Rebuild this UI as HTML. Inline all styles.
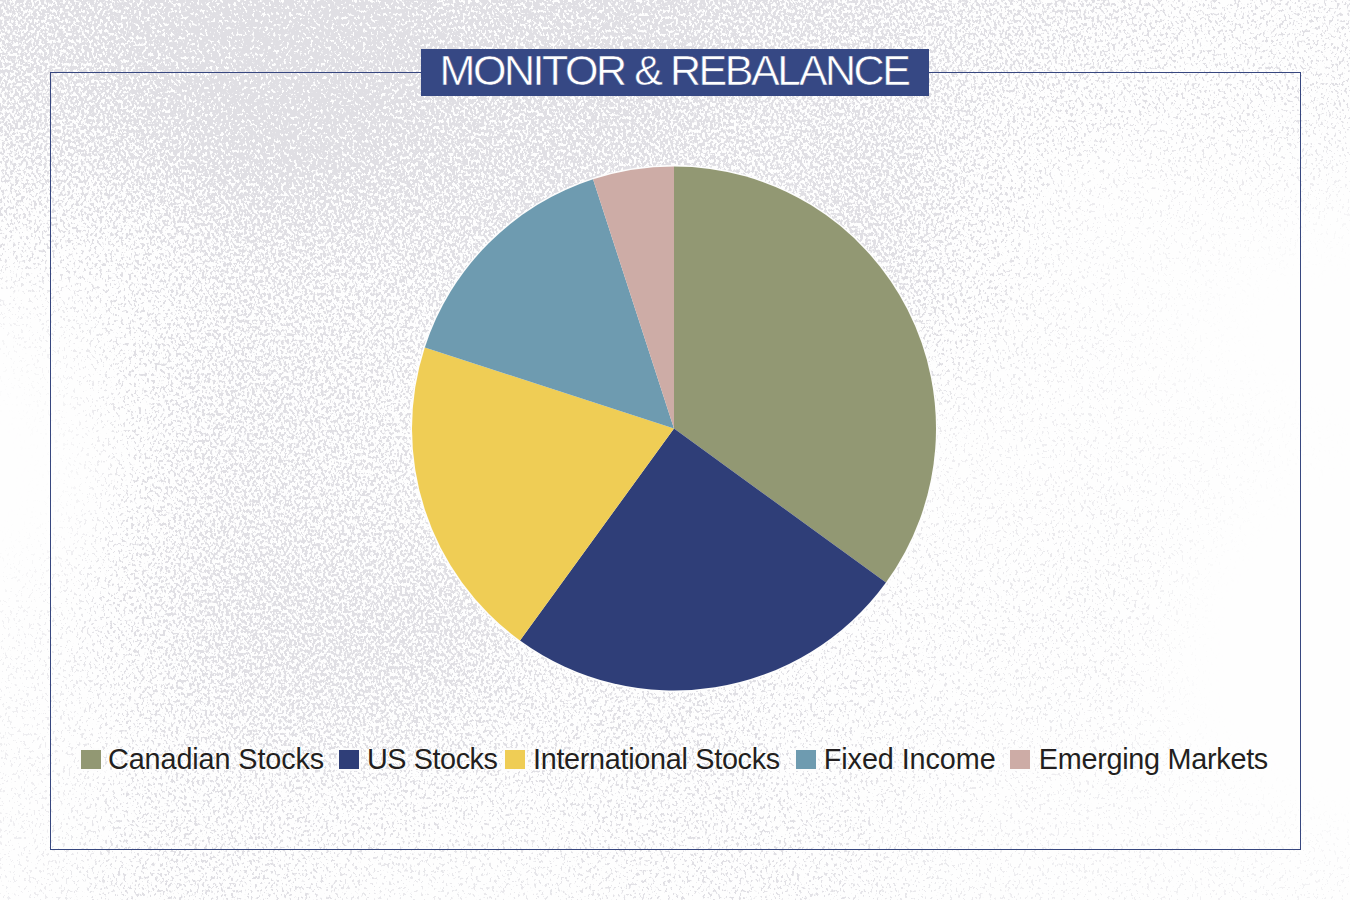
<!DOCTYPE html>
<html><head><meta charset="utf-8">
<style>
html,body{margin:0;padding:0;}
body{width:1350px;height:900px;overflow:hidden;position:relative;background:#f4f4f6;font-family:"Liberation Sans",sans-serif;}
#bg{position:absolute;left:0;top:0;width:1350px;height:900px;}
#frame{position:absolute;left:50px;top:72px;width:1249px;height:776px;border:1px solid #37477f;}
#title{position:absolute;left:421px;top:49px;width:508px;height:47px;background:#364884;}
#title span{position:absolute;left:-1px;top:0;width:508px;text-align:center;color:#fff;font-size:43px;line-height:43px;letter-spacing:-2.45px;-webkit-text-stroke:0.5px #364884;}
#pie{position:absolute;left:0;top:0;}
.lg{position:absolute;top:750px;width:20px;height:19px;box-shadow:0 0 0 2px rgba(253,253,253,0.9);}
.lt{position:absolute;top:743px;font-size:28.8px;line-height:32px;color:#231f20;letter-spacing:-0.3px;white-space:nowrap;text-shadow:0 0 1.5px #fff,0 0 1.5px #fff,0 0 2px #fff;}
</style></head>
<body>
<svg id="bg" width="1350" height="900">
<defs>
<filter id="tex" filterUnits="userSpaceOnUse" x="-60" y="-60" width="1470" height="1020" color-interpolation-filters="sRGB">
<feGaussianBlur in="SourceGraphic" stdDeviation="15" result="dens"/>
<feTurbulence type="fractalNoise" baseFrequency="0.38 0.3" numOctaves="2" seed="7" result="n0"/>
<feColorMatrix in="n0" type="matrix" values="1 0 0 0 0  1 0 0 0 0  1 0 0 0 0  0 0 0 0 1" result="n1"/>
<feComponentTransfer in="n1" result="noise"><feFuncR type="linear" slope="3" intercept="-1"/><feFuncG type="linear" slope="3" intercept="-1"/><feFuncB type="linear" slope="3" intercept="-1"/></feComponentTransfer>
<feComposite in="dens" in2="noise" operator="arithmetic" k1="0" k2="1" k3="1" k4="-1" result="v"/>
<feComponentTransfer in="v" result="m"><feFuncR type="linear" slope="4"/><feFuncG type="linear" slope="4"/><feFuncB type="linear" slope="4"/><feFuncA type="linear" slope="0" intercept="1"/></feComponentTransfer>
<feColorMatrix in="m" type="matrix" values="-0.1176 0 0 0 0.996  -0.1216 0 0 0 0.996  -0.102 0 0 0 0.996  0 0 0 0 1" result="c"/>

</filter>
</defs>
<g filter="url(#tex)">
<rect x="-60" y="-60" width="30" height="30" fill="rgb(182,182,182)"/><rect x="-30" y="-60" width="30" height="30" fill="rgb(182,182,182)"/><rect x="0" y="-60" width="30" height="30" fill="rgb(185,185,185)"/><rect x="30" y="-60" width="30" height="30" fill="rgb(191,191,191)"/><rect x="60" y="-60" width="30" height="30" fill="rgb(200,200,200)"/><rect x="90" y="-60" width="30" height="30" fill="rgb(211,211,211)"/><rect x="120" y="-60" width="30" height="30" fill="rgb(224,224,224)"/><rect x="150" y="-60" width="30" height="30" fill="rgb(238,238,238)"/><rect x="180" y="-60" width="30" height="30" fill="rgb(252,252,252)"/><rect x="210" y="-60" width="30" height="30" fill="rgb(255,255,255)"/><rect x="240" y="-60" width="30" height="30" fill="rgb(255,255,255)"/><rect x="270" y="-60" width="30" height="30" fill="rgb(255,255,255)"/><rect x="300" y="-60" width="30" height="30" fill="rgb(255,255,255)"/><rect x="330" y="-60" width="30" height="30" fill="rgb(255,255,255)"/><rect x="360" y="-60" width="30" height="30" fill="rgb(255,255,255)"/><rect x="390" y="-60" width="30" height="30" fill="rgb(244,244,244)"/><rect x="420" y="-60" width="30" height="30" fill="rgb(232,232,232)"/><rect x="450" y="-60" width="30" height="30" fill="rgb(222,222,222)"/><rect x="480" y="-60" width="30" height="30" fill="rgb(218,218,218)"/><rect x="510" y="-60" width="30" height="30" fill="rgb(218,218,218)"/><rect x="540" y="-60" width="30" height="30" fill="rgb(220,220,220)"/><rect x="570" y="-60" width="30" height="30" fill="rgb(223,223,223)"/><rect x="600" y="-60" width="30" height="30" fill="rgb(225,225,225)"/><rect x="630" y="-60" width="30" height="30" fill="rgb(223,223,223)"/><rect x="660" y="-60" width="30" height="30" fill="rgb(217,217,217)"/><rect x="690" y="-60" width="30" height="30" fill="rgb(207,207,207)"/><rect x="720" y="-60" width="30" height="30" fill="rgb(196,196,196)"/><rect x="750" y="-60" width="30" height="30" fill="rgb(188,188,188)"/><rect x="780" y="-60" width="30" height="30" fill="rgb(182,182,182)"/><rect x="810" y="-60" width="30" height="30" fill="rgb(178,178,178)"/><rect x="840" y="-60" width="30" height="30" fill="rgb(173,173,173)"/><rect x="870" y="-60" width="30" height="30" fill="rgb(165,165,165)"/><rect x="900" y="-60" width="30" height="30" fill="rgb(154,154,154)"/><rect x="930" y="-60" width="30" height="30" fill="rgb(142,142,142)"/><rect x="960" y="-60" width="30" height="30" fill="rgb(134,134,134)"/><rect x="990" y="-60" width="30" height="30" fill="rgb(129,129,129)"/><rect x="1020" y="-60" width="30" height="30" fill="rgb(125,125,125)"/><rect x="1050" y="-60" width="30" height="30" fill="rgb(121,121,121)"/><rect x="1080" y="-60" width="30" height="30" fill="rgb(114,114,114)"/><rect x="1110" y="-60" width="30" height="30" fill="rgb(103,103,103)"/><rect x="1140" y="-60" width="30" height="30" fill="rgb(89,89,89)"/><rect x="1170" y="-60" width="30" height="30" fill="rgb(80,80,80)"/><rect x="1200" y="-60" width="30" height="30" fill="rgb(75,75,75)"/><rect x="1230" y="-60" width="30" height="30" fill="rgb(74,74,74)"/><rect x="1260" y="-60" width="30" height="30" fill="rgb(74,74,74)"/><rect x="1290" y="-60" width="30" height="30" fill="rgb(74,74,74)"/><rect x="1320" y="-60" width="30" height="30" fill="rgb(75,75,75)"/><rect x="1350" y="-60" width="30" height="30" fill="rgb(75,75,75)"/><rect x="1380" y="-60" width="30" height="30" fill="rgb(75,75,75)"/><rect x="-60" y="-30" width="30" height="30" fill="rgb(182,182,182)"/><rect x="-30" y="-30" width="30" height="30" fill="rgb(182,182,182)"/><rect x="0" y="-30" width="30" height="30" fill="rgb(185,185,185)"/><rect x="30" y="-30" width="30" height="30" fill="rgb(191,191,191)"/><rect x="60" y="-30" width="30" height="30" fill="rgb(200,200,200)"/><rect x="90" y="-30" width="30" height="30" fill="rgb(211,211,211)"/><rect x="120" y="-30" width="30" height="30" fill="rgb(224,224,224)"/><rect x="150" y="-30" width="30" height="30" fill="rgb(238,238,238)"/><rect x="180" y="-30" width="30" height="30" fill="rgb(252,252,252)"/><rect x="210" y="-30" width="30" height="30" fill="rgb(255,255,255)"/><rect x="240" y="-30" width="30" height="30" fill="rgb(255,255,255)"/><rect x="270" y="-30" width="30" height="30" fill="rgb(255,255,255)"/><rect x="300" y="-30" width="30" height="30" fill="rgb(255,255,255)"/><rect x="330" y="-30" width="30" height="30" fill="rgb(255,255,255)"/><rect x="360" y="-30" width="30" height="30" fill="rgb(255,255,255)"/><rect x="390" y="-30" width="30" height="30" fill="rgb(244,244,244)"/><rect x="420" y="-30" width="30" height="30" fill="rgb(232,232,232)"/><rect x="450" y="-30" width="30" height="30" fill="rgb(222,222,222)"/><rect x="480" y="-30" width="30" height="30" fill="rgb(218,218,218)"/><rect x="510" y="-30" width="30" height="30" fill="rgb(218,218,218)"/><rect x="540" y="-30" width="30" height="30" fill="rgb(220,220,220)"/><rect x="570" y="-30" width="30" height="30" fill="rgb(223,223,223)"/><rect x="600" y="-30" width="30" height="30" fill="rgb(225,225,225)"/><rect x="630" y="-30" width="30" height="30" fill="rgb(223,223,223)"/><rect x="660" y="-30" width="30" height="30" fill="rgb(217,217,217)"/><rect x="690" y="-30" width="30" height="30" fill="rgb(207,207,207)"/><rect x="720" y="-30" width="30" height="30" fill="rgb(196,196,196)"/><rect x="750" y="-30" width="30" height="30" fill="rgb(188,188,188)"/><rect x="780" y="-30" width="30" height="30" fill="rgb(182,182,182)"/><rect x="810" y="-30" width="30" height="30" fill="rgb(178,178,178)"/><rect x="840" y="-30" width="30" height="30" fill="rgb(173,173,173)"/><rect x="870" y="-30" width="30" height="30" fill="rgb(165,165,165)"/><rect x="900" y="-30" width="30" height="30" fill="rgb(154,154,154)"/><rect x="930" y="-30" width="30" height="30" fill="rgb(142,142,142)"/><rect x="960" y="-30" width="30" height="30" fill="rgb(134,134,134)"/><rect x="990" y="-30" width="30" height="30" fill="rgb(129,129,129)"/><rect x="1020" y="-30" width="30" height="30" fill="rgb(125,125,125)"/><rect x="1050" y="-30" width="30" height="30" fill="rgb(121,121,121)"/><rect x="1080" y="-30" width="30" height="30" fill="rgb(114,114,114)"/><rect x="1110" y="-30" width="30" height="30" fill="rgb(103,103,103)"/><rect x="1140" y="-30" width="30" height="30" fill="rgb(89,89,89)"/><rect x="1170" y="-30" width="30" height="30" fill="rgb(80,80,80)"/><rect x="1200" y="-30" width="30" height="30" fill="rgb(75,75,75)"/><rect x="1230" y="-30" width="30" height="30" fill="rgb(74,74,74)"/><rect x="1260" y="-30" width="30" height="30" fill="rgb(74,74,74)"/><rect x="1290" y="-30" width="30" height="30" fill="rgb(74,74,74)"/><rect x="1320" y="-30" width="30" height="30" fill="rgb(75,75,75)"/><rect x="1350" y="-30" width="30" height="30" fill="rgb(75,75,75)"/><rect x="1380" y="-30" width="30" height="30" fill="rgb(75,75,75)"/><rect x="-60" y="0" width="30" height="30" fill="rgb(181,181,181)"/><rect x="-30" y="0" width="30" height="30" fill="rgb(181,181,181)"/><rect x="0" y="0" width="30" height="30" fill="rgb(183,183,183)"/><rect x="30" y="0" width="30" height="30" fill="rgb(190,190,190)"/><rect x="60" y="0" width="30" height="30" fill="rgb(199,199,199)"/><rect x="90" y="0" width="30" height="30" fill="rgb(210,210,210)"/><rect x="120" y="0" width="30" height="30" fill="rgb(222,222,222)"/><rect x="150" y="0" width="30" height="30" fill="rgb(237,237,237)"/><rect x="180" y="0" width="30" height="30" fill="rgb(251,251,251)"/><rect x="210" y="0" width="30" height="30" fill="rgb(255,255,255)"/><rect x="240" y="0" width="30" height="30" fill="rgb(255,255,255)"/><rect x="270" y="0" width="30" height="30" fill="rgb(255,255,255)"/><rect x="300" y="0" width="30" height="30" fill="rgb(255,255,255)"/><rect x="330" y="0" width="30" height="30" fill="rgb(255,255,255)"/><rect x="360" y="0" width="30" height="30" fill="rgb(255,255,255)"/><rect x="390" y="0" width="30" height="30" fill="rgb(244,244,244)"/><rect x="420" y="0" width="30" height="30" fill="rgb(231,231,231)"/><rect x="450" y="0" width="30" height="30" fill="rgb(221,221,221)"/><rect x="480" y="0" width="30" height="30" fill="rgb(216,216,216)"/><rect x="510" y="0" width="30" height="30" fill="rgb(216,216,216)"/><rect x="540" y="0" width="30" height="30" fill="rgb(218,218,218)"/><rect x="570" y="0" width="30" height="30" fill="rgb(221,221,221)"/><rect x="600" y="0" width="30" height="30" fill="rgb(222,222,222)"/><rect x="630" y="0" width="30" height="30" fill="rgb(220,220,220)"/><rect x="660" y="0" width="30" height="30" fill="rgb(214,214,214)"/><rect x="690" y="0" width="30" height="30" fill="rgb(204,204,204)"/><rect x="720" y="0" width="30" height="30" fill="rgb(193,193,193)"/><rect x="750" y="0" width="30" height="30" fill="rgb(185,185,185)"/><rect x="780" y="0" width="30" height="30" fill="rgb(180,180,180)"/><rect x="810" y="0" width="30" height="30" fill="rgb(176,176,176)"/><rect x="840" y="0" width="30" height="30" fill="rgb(171,171,171)"/><rect x="870" y="0" width="30" height="30" fill="rgb(164,164,164)"/><rect x="900" y="0" width="30" height="30" fill="rgb(152,152,152)"/><rect x="930" y="0" width="30" height="30" fill="rgb(141,141,141)"/><rect x="960" y="0" width="30" height="30" fill="rgb(132,132,132)"/><rect x="990" y="0" width="30" height="30" fill="rgb(126,126,126)"/><rect x="1020" y="0" width="30" height="30" fill="rgb(122,122,122)"/><rect x="1050" y="0" width="30" height="30" fill="rgb(118,118,118)"/><rect x="1080" y="0" width="30" height="30" fill="rgb(111,111,111)"/><rect x="1110" y="0" width="30" height="30" fill="rgb(100,100,100)"/><rect x="1140" y="0" width="30" height="30" fill="rgb(87,87,87)"/><rect x="1170" y="0" width="30" height="30" fill="rgb(78,78,78)"/><rect x="1200" y="0" width="30" height="30" fill="rgb(74,74,74)"/><rect x="1230" y="0" width="30" height="30" fill="rgb(73,73,73)"/><rect x="1260" y="0" width="30" height="30" fill="rgb(73,73,73)"/><rect x="1290" y="0" width="30" height="30" fill="rgb(73,73,73)"/><rect x="1320" y="0" width="30" height="30" fill="rgb(74,74,74)"/><rect x="1350" y="0" width="30" height="30" fill="rgb(74,74,74)"/><rect x="1380" y="0" width="30" height="30" fill="rgb(74,74,74)"/><rect x="-60" y="30" width="30" height="30" fill="rgb(177,177,177)"/><rect x="-30" y="30" width="30" height="30" fill="rgb(177,177,177)"/><rect x="0" y="30" width="30" height="30" fill="rgb(180,180,180)"/><rect x="30" y="30" width="30" height="30" fill="rgb(186,186,186)"/><rect x="60" y="30" width="30" height="30" fill="rgb(194,194,194)"/><rect x="90" y="30" width="30" height="30" fill="rgb(205,205,205)"/><rect x="120" y="30" width="30" height="30" fill="rgb(217,217,217)"/><rect x="150" y="30" width="30" height="30" fill="rgb(232,232,232)"/><rect x="180" y="30" width="30" height="30" fill="rgb(247,247,247)"/><rect x="210" y="30" width="30" height="30" fill="rgb(255,255,255)"/><rect x="240" y="30" width="30" height="30" fill="rgb(255,255,255)"/><rect x="270" y="30" width="30" height="30" fill="rgb(255,255,255)"/><rect x="300" y="30" width="30" height="30" fill="rgb(255,255,255)"/><rect x="330" y="30" width="30" height="30" fill="rgb(255,255,255)"/><rect x="360" y="30" width="30" height="30" fill="rgb(255,255,255)"/><rect x="390" y="30" width="30" height="30" fill="rgb(243,243,243)"/><rect x="420" y="30" width="30" height="30" fill="rgb(229,229,229)"/><rect x="450" y="30" width="30" height="30" fill="rgb(218,218,218)"/><rect x="480" y="30" width="30" height="30" fill="rgb(213,213,213)"/><rect x="510" y="30" width="30" height="30" fill="rgb(212,212,212)"/><rect x="540" y="30" width="30" height="30" fill="rgb(213,213,213)"/><rect x="570" y="30" width="30" height="30" fill="rgb(216,216,216)"/><rect x="600" y="30" width="30" height="30" fill="rgb(217,217,217)"/><rect x="630" y="30" width="30" height="30" fill="rgb(215,215,215)"/><rect x="660" y="30" width="30" height="30" fill="rgb(207,207,207)"/><rect x="690" y="30" width="30" height="30" fill="rgb(197,197,197)"/><rect x="720" y="30" width="30" height="30" fill="rgb(186,186,186)"/><rect x="750" y="30" width="30" height="30" fill="rgb(178,178,178)"/><rect x="780" y="30" width="30" height="30" fill="rgb(173,173,173)"/><rect x="810" y="30" width="30" height="30" fill="rgb(171,171,171)"/><rect x="840" y="30" width="30" height="30" fill="rgb(167,167,167)"/><rect x="870" y="30" width="30" height="30" fill="rgb(161,161,161)"/><rect x="900" y="30" width="30" height="30" fill="rgb(150,150,150)"/><rect x="930" y="30" width="30" height="30" fill="rgb(138,138,138)"/><rect x="960" y="30" width="30" height="30" fill="rgb(127,127,127)"/><rect x="990" y="30" width="30" height="30" fill="rgb(120,120,120)"/><rect x="1020" y="30" width="30" height="30" fill="rgb(115,115,115)"/><rect x="1050" y="30" width="30" height="30" fill="rgb(110,110,110)"/><rect x="1080" y="30" width="30" height="30" fill="rgb(102,102,102)"/><rect x="1110" y="30" width="30" height="30" fill="rgb(92,92,92)"/><rect x="1140" y="30" width="30" height="30" fill="rgb(80,80,80)"/><rect x="1170" y="30" width="30" height="30" fill="rgb(73,73,73)"/><rect x="1200" y="30" width="30" height="30" fill="rgb(70,70,70)"/><rect x="1230" y="30" width="30" height="30" fill="rgb(70,70,70)"/><rect x="1260" y="30" width="30" height="30" fill="rgb(70,70,70)"/><rect x="1290" y="30" width="30" height="30" fill="rgb(71,71,71)"/><rect x="1320" y="30" width="30" height="30" fill="rgb(71,71,71)"/><rect x="1350" y="30" width="30" height="30" fill="rgb(71,71,71)"/><rect x="1380" y="30" width="30" height="30" fill="rgb(71,71,71)"/><rect x="-60" y="60" width="30" height="30" fill="rgb(172,172,172)"/><rect x="-30" y="60" width="30" height="30" fill="rgb(172,172,172)"/><rect x="0" y="60" width="30" height="30" fill="rgb(174,174,174)"/><rect x="30" y="60" width="30" height="30" fill="rgb(180,180,180)"/><rect x="60" y="60" width="30" height="30" fill="rgb(187,187,187)"/><rect x="90" y="60" width="30" height="30" fill="rgb(197,197,197)"/><rect x="120" y="60" width="30" height="30" fill="rgb(210,210,210)"/><rect x="150" y="60" width="30" height="30" fill="rgb(225,225,225)"/><rect x="180" y="60" width="30" height="30" fill="rgb(242,242,242)"/><rect x="210" y="60" width="30" height="30" fill="rgb(255,255,255)"/><rect x="240" y="60" width="30" height="30" fill="rgb(255,255,255)"/><rect x="270" y="60" width="30" height="30" fill="rgb(255,255,255)"/><rect x="300" y="60" width="30" height="30" fill="rgb(255,255,255)"/><rect x="330" y="60" width="30" height="30" fill="rgb(255,255,255)"/><rect x="360" y="60" width="30" height="30" fill="rgb(251,251,251)"/><rect x="390" y="60" width="30" height="30" fill="rgb(238,238,238)"/><rect x="420" y="60" width="30" height="30" fill="rgb(224,224,224)"/><rect x="450" y="60" width="30" height="30" fill="rgb(213,213,213)"/><rect x="480" y="60" width="30" height="30" fill="rgb(208,208,208)"/><rect x="510" y="60" width="30" height="30" fill="rgb(206,206,206)"/><rect x="540" y="60" width="30" height="30" fill="rgb(208,208,208)"/><rect x="570" y="60" width="30" height="30" fill="rgb(210,210,210)"/><rect x="600" y="60" width="30" height="30" fill="rgb(210,210,210)"/><rect x="630" y="60" width="30" height="30" fill="rgb(207,207,207)"/><rect x="660" y="60" width="30" height="30" fill="rgb(199,199,199)"/><rect x="690" y="60" width="30" height="30" fill="rgb(188,188,188)"/><rect x="720" y="60" width="30" height="30" fill="rgb(177,177,177)"/><rect x="750" y="60" width="30" height="30" fill="rgb(170,170,170)"/><rect x="780" y="60" width="30" height="30" fill="rgb(167,167,167)"/><rect x="810" y="60" width="30" height="30" fill="rgb(166,166,166)"/><rect x="840" y="60" width="30" height="30" fill="rgb(164,164,164)"/><rect x="870" y="60" width="30" height="30" fill="rgb(159,159,159)"/><rect x="900" y="60" width="30" height="30" fill="rgb(148,148,148)"/><rect x="930" y="60" width="30" height="30" fill="rgb(134,134,134)"/><rect x="960" y="60" width="30" height="30" fill="rgb(121,121,121)"/><rect x="990" y="60" width="30" height="30" fill="rgb(111,111,111)"/><rect x="1020" y="60" width="30" height="30" fill="rgb(104,104,104)"/><rect x="1050" y="60" width="30" height="30" fill="rgb(97,97,97)"/><rect x="1080" y="60" width="30" height="30" fill="rgb(90,90,90)"/><rect x="1110" y="60" width="30" height="30" fill="rgb(81,81,81)"/><rect x="1140" y="60" width="30" height="30" fill="rgb(72,72,72)"/><rect x="1170" y="60" width="30" height="30" fill="rgb(67,67,67)"/><rect x="1200" y="60" width="30" height="30" fill="rgb(65,65,65)"/><rect x="1230" y="60" width="30" height="30" fill="rgb(65,65,65)"/><rect x="1260" y="60" width="30" height="30" fill="rgb(66,66,66)"/><rect x="1290" y="60" width="30" height="30" fill="rgb(66,66,66)"/><rect x="1320" y="60" width="30" height="30" fill="rgb(67,67,67)"/><rect x="1350" y="60" width="30" height="30" fill="rgb(67,67,67)"/><rect x="1380" y="60" width="30" height="30" fill="rgb(67,67,67)"/><rect x="-60" y="90" width="30" height="30" fill="rgb(164,164,164)"/><rect x="-30" y="90" width="30" height="30" fill="rgb(164,164,164)"/><rect x="0" y="90" width="30" height="30" fill="rgb(165,165,165)"/><rect x="30" y="90" width="30" height="30" fill="rgb(170,170,170)"/><rect x="60" y="90" width="30" height="30" fill="rgb(177,177,177)"/><rect x="90" y="90" width="30" height="30" fill="rgb(187,187,187)"/><rect x="120" y="90" width="30" height="30" fill="rgb(199,199,199)"/><rect x="150" y="90" width="30" height="30" fill="rgb(215,215,215)"/><rect x="180" y="90" width="30" height="30" fill="rgb(232,232,232)"/><rect x="210" y="90" width="30" height="30" fill="rgb(249,249,249)"/><rect x="240" y="90" width="30" height="30" fill="rgb(255,255,255)"/><rect x="270" y="90" width="30" height="30" fill="rgb(255,255,255)"/><rect x="300" y="90" width="30" height="30" fill="rgb(255,255,255)"/><rect x="330" y="90" width="30" height="30" fill="rgb(253,253,253)"/><rect x="360" y="90" width="30" height="30" fill="rgb(242,242,242)"/><rect x="390" y="90" width="30" height="30" fill="rgb(229,229,229)"/><rect x="420" y="90" width="30" height="30" fill="rgb(216,216,216)"/><rect x="450" y="90" width="30" height="30" fill="rgb(206,206,206)"/><rect x="480" y="90" width="30" height="30" fill="rgb(201,201,201)"/><rect x="510" y="90" width="30" height="30" fill="rgb(200,200,200)"/><rect x="540" y="90" width="30" height="30" fill="rgb(201,201,201)"/><rect x="570" y="90" width="30" height="30" fill="rgb(203,203,203)"/><rect x="600" y="90" width="30" height="30" fill="rgb(202,202,202)"/><rect x="630" y="90" width="30" height="30" fill="rgb(199,199,199)"/><rect x="660" y="90" width="30" height="30" fill="rgb(190,190,190)"/><rect x="690" y="90" width="30" height="30" fill="rgb(178,178,178)"/><rect x="720" y="90" width="30" height="30" fill="rgb(167,167,167)"/><rect x="750" y="90" width="30" height="30" fill="rgb(162,162,162)"/><rect x="780" y="90" width="30" height="30" fill="rgb(161,161,161)"/><rect x="810" y="90" width="30" height="30" fill="rgb(162,162,162)"/><rect x="840" y="90" width="30" height="30" fill="rgb(163,163,163)"/><rect x="870" y="90" width="30" height="30" fill="rgb(158,158,158)"/><rect x="900" y="90" width="30" height="30" fill="rgb(146,146,146)"/><rect x="930" y="90" width="30" height="30" fill="rgb(130,130,130)"/><rect x="960" y="90" width="30" height="30" fill="rgb(114,114,114)"/><rect x="990" y="90" width="30" height="30" fill="rgb(101,101,101)"/><rect x="1020" y="90" width="30" height="30" fill="rgb(90,90,90)"/><rect x="1050" y="90" width="30" height="30" fill="rgb(82,82,82)"/><rect x="1080" y="90" width="30" height="30" fill="rgb(75,75,75)"/><rect x="1110" y="90" width="30" height="30" fill="rgb(68,68,68)"/><rect x="1140" y="90" width="30" height="30" fill="rgb(63,63,63)"/><rect x="1170" y="90" width="30" height="30" fill="rgb(60,60,60)"/><rect x="1200" y="90" width="30" height="30" fill="rgb(60,60,60)"/><rect x="1230" y="90" width="30" height="30" fill="rgb(60,60,60)"/><rect x="1260" y="90" width="30" height="30" fill="rgb(60,60,60)"/><rect x="1290" y="90" width="30" height="30" fill="rgb(61,61,61)"/><rect x="1320" y="90" width="30" height="30" fill="rgb(61,61,61)"/><rect x="1350" y="90" width="30" height="30" fill="rgb(61,61,61)"/><rect x="1380" y="90" width="30" height="30" fill="rgb(61,61,61)"/><rect x="-60" y="120" width="30" height="30" fill="rgb(150,150,150)"/><rect x="-30" y="120" width="30" height="30" fill="rgb(150,150,150)"/><rect x="0" y="120" width="30" height="30" fill="rgb(152,152,152)"/><rect x="30" y="120" width="30" height="30" fill="rgb(157,157,157)"/><rect x="60" y="120" width="30" height="30" fill="rgb(163,163,163)"/><rect x="90" y="120" width="30" height="30" fill="rgb(172,172,172)"/><rect x="120" y="120" width="30" height="30" fill="rgb(184,184,184)"/><rect x="150" y="120" width="30" height="30" fill="rgb(200,200,200)"/><rect x="180" y="120" width="30" height="30" fill="rgb(219,219,219)"/><rect x="210" y="120" width="30" height="30" fill="rgb(236,236,236)"/><rect x="240" y="120" width="30" height="30" fill="rgb(247,247,247)"/><rect x="270" y="120" width="30" height="30" fill="rgb(250,250,250)"/><rect x="300" y="120" width="30" height="30" fill="rgb(247,247,247)"/><rect x="330" y="120" width="30" height="30" fill="rgb(239,239,239)"/><rect x="360" y="120" width="30" height="30" fill="rgb(228,228,228)"/><rect x="390" y="120" width="30" height="30" fill="rgb(216,216,216)"/><rect x="420" y="120" width="30" height="30" fill="rgb(205,205,205)"/><rect x="450" y="120" width="30" height="30" fill="rgb(197,197,197)"/><rect x="480" y="120" width="30" height="30" fill="rgb(193,193,193)"/><rect x="510" y="120" width="30" height="30" fill="rgb(192,192,192)"/><rect x="540" y="120" width="30" height="30" fill="rgb(194,194,194)"/><rect x="570" y="120" width="30" height="30" fill="rgb(195,195,195)"/><rect x="600" y="120" width="30" height="30" fill="rgb(195,195,195)"/><rect x="630" y="120" width="30" height="30" fill="rgb(190,190,190)"/><rect x="660" y="120" width="30" height="30" fill="rgb(180,180,180)"/><rect x="690" y="120" width="30" height="30" fill="rgb(168,168,168)"/><rect x="720" y="120" width="30" height="30" fill="rgb(159,159,159)"/><rect x="750" y="120" width="30" height="30" fill="rgb(155,155,155)"/><rect x="780" y="120" width="30" height="30" fill="rgb(157,157,157)"/><rect x="810" y="120" width="30" height="30" fill="rgb(161,161,161)"/><rect x="840" y="120" width="30" height="30" fill="rgb(163,163,163)"/><rect x="870" y="120" width="30" height="30" fill="rgb(158,158,158)"/><rect x="900" y="120" width="30" height="30" fill="rgb(145,145,145)"/><rect x="930" y="120" width="30" height="30" fill="rgb(127,127,127)"/><rect x="960" y="120" width="30" height="30" fill="rgb(107,107,107)"/><rect x="990" y="120" width="30" height="30" fill="rgb(90,90,90)"/><rect x="1020" y="120" width="30" height="30" fill="rgb(77,77,77)"/><rect x="1050" y="120" width="30" height="30" fill="rgb(66,66,66)"/><rect x="1080" y="120" width="30" height="30" fill="rgb(59,59,59)"/><rect x="1110" y="120" width="30" height="30" fill="rgb(55,55,55)"/><rect x="1140" y="120" width="30" height="30" fill="rgb(53,53,53)"/><rect x="1170" y="120" width="30" height="30" fill="rgb(53,53,53)"/><rect x="1200" y="120" width="30" height="30" fill="rgb(53,53,53)"/><rect x="1230" y="120" width="30" height="30" fill="rgb(53,53,53)"/><rect x="1260" y="120" width="30" height="30" fill="rgb(53,53,53)"/><rect x="1290" y="120" width="30" height="30" fill="rgb(53,53,53)"/><rect x="1320" y="120" width="30" height="30" fill="rgb(52,52,52)"/><rect x="1350" y="120" width="30" height="30" fill="rgb(52,52,52)"/><rect x="1380" y="120" width="30" height="30" fill="rgb(52,52,52)"/><rect x="-60" y="150" width="30" height="30" fill="rgb(130,130,130)"/><rect x="-30" y="150" width="30" height="30" fill="rgb(130,130,130)"/><rect x="0" y="150" width="30" height="30" fill="rgb(133,133,133)"/><rect x="30" y="150" width="30" height="30" fill="rgb(138,138,138)"/><rect x="60" y="150" width="30" height="30" fill="rgb(144,144,144)"/><rect x="90" y="150" width="30" height="30" fill="rgb(153,153,153)"/><rect x="120" y="150" width="30" height="30" fill="rgb(165,165,165)"/><rect x="150" y="150" width="30" height="30" fill="rgb(181,181,181)"/><rect x="180" y="150" width="30" height="30" fill="rgb(199,199,199)"/><rect x="210" y="150" width="30" height="30" fill="rgb(217,217,217)"/><rect x="240" y="150" width="30" height="30" fill="rgb(227,227,227)"/><rect x="270" y="150" width="30" height="30" fill="rgb(230,230,230)"/><rect x="300" y="150" width="30" height="30" fill="rgb(226,226,226)"/><rect x="330" y="150" width="30" height="30" fill="rgb(218,218,218)"/><rect x="360" y="150" width="30" height="30" fill="rgb(209,209,209)"/><rect x="390" y="150" width="30" height="30" fill="rgb(200,200,200)"/><rect x="420" y="150" width="30" height="30" fill="rgb(192,192,192)"/><rect x="450" y="150" width="30" height="30" fill="rgb(186,186,186)"/><rect x="480" y="150" width="30" height="30" fill="rgb(185,185,185)"/><rect x="510" y="150" width="30" height="30" fill="rgb(185,185,185)"/><rect x="540" y="150" width="30" height="30" fill="rgb(187,187,187)"/><rect x="570" y="150" width="30" height="30" fill="rgb(189,189,189)"/><rect x="600" y="150" width="30" height="30" fill="rgb(188,188,188)"/><rect x="630" y="150" width="30" height="30" fill="rgb(182,182,182)"/><rect x="660" y="150" width="30" height="30" fill="rgb(172,172,172)"/><rect x="690" y="150" width="30" height="30" fill="rgb(160,160,160)"/><rect x="720" y="150" width="30" height="30" fill="rgb(152,152,152)"/><rect x="750" y="150" width="30" height="30" fill="rgb(152,152,152)"/><rect x="780" y="150" width="30" height="30" fill="rgb(156,156,156)"/><rect x="810" y="150" width="30" height="30" fill="rgb(163,163,163)"/><rect x="840" y="150" width="30" height="30" fill="rgb(165,165,165)"/><rect x="870" y="150" width="30" height="30" fill="rgb(159,159,159)"/><rect x="900" y="150" width="30" height="30" fill="rgb(144,144,144)"/><rect x="930" y="150" width="30" height="30" fill="rgb(123,123,123)"/><rect x="960" y="150" width="30" height="30" fill="rgb(101,101,101)"/><rect x="990" y="150" width="30" height="30" fill="rgb(81,81,81)"/><rect x="1020" y="150" width="30" height="30" fill="rgb(65,65,65)"/><rect x="1050" y="150" width="30" height="30" fill="rgb(53,53,53)"/><rect x="1080" y="150" width="30" height="30" fill="rgb(46,46,46)"/><rect x="1110" y="150" width="30" height="30" fill="rgb(43,43,43)"/><rect x="1140" y="150" width="30" height="30" fill="rgb(44,44,44)"/><rect x="1170" y="150" width="30" height="30" fill="rgb(45,45,45)"/><rect x="1200" y="150" width="30" height="30" fill="rgb(45,45,45)"/><rect x="1230" y="150" width="30" height="30" fill="rgb(45,45,45)"/><rect x="1260" y="150" width="30" height="30" fill="rgb(44,44,44)"/><rect x="1290" y="150" width="30" height="30" fill="rgb(42,42,42)"/><rect x="1320" y="150" width="30" height="30" fill="rgb(40,40,40)"/><rect x="1350" y="150" width="30" height="30" fill="rgb(39,39,39)"/><rect x="1380" y="150" width="30" height="30" fill="rgb(39,39,39)"/><rect x="-60" y="180" width="30" height="30" fill="rgb(105,105,105)"/><rect x="-30" y="180" width="30" height="30" fill="rgb(105,105,105)"/><rect x="0" y="180" width="30" height="30" fill="rgb(108,108,108)"/><rect x="30" y="180" width="30" height="30" fill="rgb(114,114,114)"/><rect x="60" y="180" width="30" height="30" fill="rgb(120,120,120)"/><rect x="90" y="180" width="30" height="30" fill="rgb(129,129,129)"/><rect x="120" y="180" width="30" height="30" fill="rgb(141,141,141)"/><rect x="150" y="180" width="30" height="30" fill="rgb(156,156,156)"/><rect x="180" y="180" width="30" height="30" fill="rgb(175,175,175)"/><rect x="210" y="180" width="30" height="30" fill="rgb(191,191,191)"/><rect x="240" y="180" width="30" height="30" fill="rgb(201,201,201)"/><rect x="270" y="180" width="30" height="30" fill="rgb(203,203,203)"/><rect x="300" y="180" width="30" height="30" fill="rgb(200,200,200)"/><rect x="330" y="180" width="30" height="30" fill="rgb(194,194,194)"/><rect x="360" y="180" width="30" height="30" fill="rgb(188,188,188)"/><rect x="390" y="180" width="30" height="30" fill="rgb(182,182,182)"/><rect x="420" y="180" width="30" height="30" fill="rgb(178,178,178)"/><rect x="450" y="180" width="30" height="30" fill="rgb(176,176,176)"/><rect x="480" y="180" width="30" height="30" fill="rgb(176,176,176)"/><rect x="510" y="180" width="30" height="30" fill="rgb(179,179,179)"/><rect x="540" y="180" width="30" height="30" fill="rgb(182,182,182)"/><rect x="570" y="180" width="30" height="30" fill="rgb(183,183,183)"/><rect x="600" y="180" width="30" height="30" fill="rgb(182,182,182)"/><rect x="630" y="180" width="30" height="30" fill="rgb(177,177,177)"/><rect x="660" y="180" width="30" height="30" fill="rgb(166,166,166)"/><rect x="690" y="180" width="30" height="30" fill="rgb(155,155,155)"/><rect x="720" y="180" width="30" height="30" fill="rgb(149,149,149)"/><rect x="750" y="180" width="30" height="30" fill="rgb(151,151,151)"/><rect x="780" y="180" width="30" height="30" fill="rgb(158,158,158)"/><rect x="810" y="180" width="30" height="30" fill="rgb(165,165,165)"/><rect x="840" y="180" width="30" height="30" fill="rgb(167,167,167)"/><rect x="870" y="180" width="30" height="30" fill="rgb(158,158,158)"/><rect x="900" y="180" width="30" height="30" fill="rgb(141,141,141)"/><rect x="930" y="180" width="30" height="30" fill="rgb(118,118,118)"/><rect x="960" y="180" width="30" height="30" fill="rgb(95,95,95)"/><rect x="990" y="180" width="30" height="30" fill="rgb(74,74,74)"/><rect x="1020" y="180" width="30" height="30" fill="rgb(57,57,57)"/><rect x="1050" y="180" width="30" height="30" fill="rgb(44,44,44)"/><rect x="1080" y="180" width="30" height="30" fill="rgb(36,36,36)"/><rect x="1110" y="180" width="30" height="30" fill="rgb(34,34,34)"/><rect x="1140" y="180" width="30" height="30" fill="rgb(36,36,36)"/><rect x="1170" y="180" width="30" height="30" fill="rgb(37,37,37)"/><rect x="1200" y="180" width="30" height="30" fill="rgb(37,37,37)"/><rect x="1230" y="180" width="30" height="30" fill="rgb(35,35,35)"/><rect x="1260" y="180" width="30" height="30" fill="rgb(33,33,33)"/><rect x="1290" y="180" width="30" height="30" fill="rgb(30,30,30)"/><rect x="1320" y="180" width="30" height="30" fill="rgb(27,27,27)"/><rect x="1350" y="180" width="30" height="30" fill="rgb(25,25,25)"/><rect x="1380" y="180" width="30" height="30" fill="rgb(25,25,25)"/><rect x="-60" y="210" width="30" height="30" fill="rgb(79,79,79)"/><rect x="-30" y="210" width="30" height="30" fill="rgb(79,79,79)"/><rect x="0" y="210" width="30" height="30" fill="rgb(82,82,82)"/><rect x="30" y="210" width="30" height="30" fill="rgb(88,88,88)"/><rect x="60" y="210" width="30" height="30" fill="rgb(95,95,95)"/><rect x="90" y="210" width="30" height="30" fill="rgb(104,104,104)"/><rect x="120" y="210" width="30" height="30" fill="rgb(115,115,115)"/><rect x="150" y="210" width="30" height="30" fill="rgb(130,130,130)"/><rect x="180" y="210" width="30" height="30" fill="rgb(148,148,148)"/><rect x="210" y="210" width="30" height="30" fill="rgb(164,164,164)"/><rect x="240" y="210" width="30" height="30" fill="rgb(173,173,173)"/><rect x="270" y="210" width="30" height="30" fill="rgb(176,176,176)"/><rect x="300" y="210" width="30" height="30" fill="rgb(174,174,174)"/><rect x="330" y="210" width="30" height="30" fill="rgb(171,171,171)"/><rect x="360" y="210" width="30" height="30" fill="rgb(168,168,168)"/><rect x="390" y="210" width="30" height="30" fill="rgb(165,165,165)"/><rect x="420" y="210" width="30" height="30" fill="rgb(165,165,165)"/><rect x="450" y="210" width="30" height="30" fill="rgb(166,166,166)"/><rect x="480" y="210" width="30" height="30" fill="rgb(169,169,169)"/><rect x="510" y="210" width="30" height="30" fill="rgb(173,173,173)"/><rect x="540" y="210" width="30" height="30" fill="rgb(177,177,177)"/><rect x="570" y="210" width="30" height="30" fill="rgb(179,179,179)"/><rect x="600" y="210" width="30" height="30" fill="rgb(178,178,178)"/><rect x="630" y="210" width="30" height="30" fill="rgb(172,172,172)"/><rect x="660" y="210" width="30" height="30" fill="rgb(162,162,162)"/><rect x="690" y="210" width="30" height="30" fill="rgb(151,151,151)"/><rect x="720" y="210" width="30" height="30" fill="rgb(148,148,148)"/><rect x="750" y="210" width="30" height="30" fill="rgb(153,153,153)"/><rect x="780" y="210" width="30" height="30" fill="rgb(161,161,161)"/><rect x="810" y="210" width="30" height="30" fill="rgb(169,169,169)"/><rect x="840" y="210" width="30" height="30" fill="rgb(168,168,168)"/><rect x="870" y="210" width="30" height="30" fill="rgb(157,157,157)"/><rect x="900" y="210" width="30" height="30" fill="rgb(137,137,137)"/><rect x="930" y="210" width="30" height="30" fill="rgb(113,113,113)"/><rect x="960" y="210" width="30" height="30" fill="rgb(89,89,89)"/><rect x="990" y="210" width="30" height="30" fill="rgb(68,68,68)"/><rect x="1020" y="210" width="30" height="30" fill="rgb(51,51,51)"/><rect x="1050" y="210" width="30" height="30" fill="rgb(39,39,39)"/><rect x="1080" y="210" width="30" height="30" fill="rgb(32,32,32)"/><rect x="1110" y="210" width="30" height="30" fill="rgb(29,29,29)"/><rect x="1140" y="210" width="30" height="30" fill="rgb(29,29,29)"/><rect x="1170" y="210" width="30" height="30" fill="rgb(29,29,29)"/><rect x="1200" y="210" width="30" height="30" fill="rgb(27,27,27)"/><rect x="1230" y="210" width="30" height="30" fill="rgb(24,24,24)"/><rect x="1260" y="210" width="30" height="30" fill="rgb(21,21,21)"/><rect x="1290" y="210" width="30" height="30" fill="rgb(17,17,17)"/><rect x="1320" y="210" width="30" height="30" fill="rgb(14,14,14)"/><rect x="1350" y="210" width="30" height="30" fill="rgb(12,12,12)"/><rect x="1380" y="210" width="30" height="30" fill="rgb(12,12,12)"/><rect x="-60" y="240" width="30" height="30" fill="rgb(56,56,56)"/><rect x="-30" y="240" width="30" height="30" fill="rgb(56,56,56)"/><rect x="0" y="240" width="30" height="30" fill="rgb(58,58,58)"/><rect x="30" y="240" width="30" height="30" fill="rgb(64,64,64)"/><rect x="60" y="240" width="30" height="30" fill="rgb(72,72,72)"/><rect x="90" y="240" width="30" height="30" fill="rgb(81,81,81)"/><rect x="120" y="240" width="30" height="30" fill="rgb(93,93,93)"/><rect x="150" y="240" width="30" height="30" fill="rgb(108,108,108)"/><rect x="180" y="240" width="30" height="30" fill="rgb(125,125,125)"/><rect x="210" y="240" width="30" height="30" fill="rgb(141,141,141)"/><rect x="240" y="240" width="30" height="30" fill="rgb(150,150,150)"/><rect x="270" y="240" width="30" height="30" fill="rgb(152,152,152)"/><rect x="300" y="240" width="30" height="30" fill="rgb(152,152,152)"/><rect x="330" y="240" width="30" height="30" fill="rgb(151,151,151)"/><rect x="360" y="240" width="30" height="30" fill="rgb(150,150,150)"/><rect x="390" y="240" width="30" height="30" fill="rgb(151,151,151)"/><rect x="420" y="240" width="30" height="30" fill="rgb(153,153,153)"/><rect x="450" y="240" width="30" height="30" fill="rgb(157,157,157)"/><rect x="480" y="240" width="30" height="30" fill="rgb(162,162,162)"/><rect x="510" y="240" width="30" height="30" fill="rgb(168,168,168)"/><rect x="540" y="240" width="30" height="30" fill="rgb(173,173,173)"/><rect x="570" y="240" width="30" height="30" fill="rgb(176,176,176)"/><rect x="600" y="240" width="30" height="30" fill="rgb(175,175,175)"/><rect x="630" y="240" width="30" height="30" fill="rgb(170,170,170)"/><rect x="660" y="240" width="30" height="30" fill="rgb(159,159,159)"/><rect x="690" y="240" width="30" height="30" fill="rgb(150,150,150)"/><rect x="720" y="240" width="30" height="30" fill="rgb(149,149,149)"/><rect x="750" y="240" width="30" height="30" fill="rgb(156,156,156)"/><rect x="780" y="240" width="30" height="30" fill="rgb(165,165,165)"/><rect x="810" y="240" width="30" height="30" fill="rgb(171,171,171)"/><rect x="840" y="240" width="30" height="30" fill="rgb(167,167,167)"/><rect x="870" y="240" width="30" height="30" fill="rgb(152,152,152)"/><rect x="900" y="240" width="30" height="30" fill="rgb(130,130,130)"/><rect x="930" y="240" width="30" height="30" fill="rgb(106,106,106)"/><rect x="960" y="240" width="30" height="30" fill="rgb(83,83,83)"/><rect x="990" y="240" width="30" height="30" fill="rgb(63,63,63)"/><rect x="1020" y="240" width="30" height="30" fill="rgb(48,48,48)"/><rect x="1050" y="240" width="30" height="30" fill="rgb(37,37,37)"/><rect x="1080" y="240" width="30" height="30" fill="rgb(30,30,30)"/><rect x="1110" y="240" width="30" height="30" fill="rgb(26,26,26)"/><rect x="1140" y="240" width="30" height="30" fill="rgb(24,24,24)"/><rect x="1170" y="240" width="30" height="30" fill="rgb(22,22,22)"/><rect x="1200" y="240" width="30" height="30" fill="rgb(18,18,18)"/><rect x="1230" y="240" width="30" height="30" fill="rgb(14,14,14)"/><rect x="1260" y="240" width="30" height="30" fill="rgb(10,10,10)"/><rect x="1290" y="240" width="30" height="30" fill="rgb(6,6,6)"/><rect x="1320" y="240" width="30" height="30" fill="rgb(3,3,3)"/><rect x="1350" y="240" width="30" height="30" fill="rgb(1,1,1)"/><rect x="1380" y="240" width="30" height="30" fill="rgb(1,1,1)"/><rect x="-60" y="270" width="30" height="30" fill="rgb(38,38,38)"/><rect x="-30" y="270" width="30" height="30" fill="rgb(38,38,38)"/><rect x="0" y="270" width="30" height="30" fill="rgb(41,41,41)"/><rect x="30" y="270" width="30" height="30" fill="rgb(47,47,47)"/><rect x="60" y="270" width="30" height="30" fill="rgb(54,54,54)"/><rect x="90" y="270" width="30" height="30" fill="rgb(64,64,64)"/><rect x="120" y="270" width="30" height="30" fill="rgb(78,78,78)"/><rect x="150" y="270" width="30" height="30" fill="rgb(95,95,95)"/><rect x="180" y="270" width="30" height="30" fill="rgb(113,113,113)"/><rect x="210" y="270" width="30" height="30" fill="rgb(127,127,127)"/><rect x="240" y="270" width="30" height="30" fill="rgb(135,135,135)"/><rect x="270" y="270" width="30" height="30" fill="rgb(137,137,137)"/><rect x="300" y="270" width="30" height="30" fill="rgb(137,137,137)"/><rect x="330" y="270" width="30" height="30" fill="rgb(136,136,136)"/><rect x="360" y="270" width="30" height="30" fill="rgb(137,137,137)"/><rect x="390" y="270" width="30" height="30" fill="rgb(139,139,139)"/><rect x="420" y="270" width="30" height="30" fill="rgb(143,143,143)"/><rect x="450" y="270" width="30" height="30" fill="rgb(149,149,149)"/><rect x="480" y="270" width="30" height="30" fill="rgb(156,156,156)"/><rect x="510" y="270" width="30" height="30" fill="rgb(163,163,163)"/><rect x="540" y="270" width="30" height="30" fill="rgb(169,169,169)"/><rect x="570" y="270" width="30" height="30" fill="rgb(173,173,173)"/><rect x="600" y="270" width="30" height="30" fill="rgb(173,173,173)"/><rect x="630" y="270" width="30" height="30" fill="rgb(168,168,168)"/><rect x="660" y="270" width="30" height="30" fill="rgb(158,158,158)"/><rect x="690" y="270" width="30" height="30" fill="rgb(151,151,151)"/><rect x="720" y="270" width="30" height="30" fill="rgb(151,151,151)"/><rect x="750" y="270" width="30" height="30" fill="rgb(160,160,160)"/><rect x="780" y="270" width="30" height="30" fill="rgb(169,169,169)"/><rect x="810" y="270" width="30" height="30" fill="rgb(171,171,171)"/><rect x="840" y="270" width="30" height="30" fill="rgb(162,162,162)"/><rect x="870" y="270" width="30" height="30" fill="rgb(144,144,144)"/><rect x="900" y="270" width="30" height="30" fill="rgb(121,121,121)"/><rect x="930" y="270" width="30" height="30" fill="rgb(97,97,97)"/><rect x="960" y="270" width="30" height="30" fill="rgb(75,75,75)"/><rect x="990" y="270" width="30" height="30" fill="rgb(58,58,58)"/><rect x="1020" y="270" width="30" height="30" fill="rgb(46,46,46)"/><rect x="1050" y="270" width="30" height="30" fill="rgb(37,37,37)"/><rect x="1080" y="270" width="30" height="30" fill="rgb(31,31,31)"/><rect x="1110" y="270" width="30" height="30" fill="rgb(26,26,26)"/><rect x="1140" y="270" width="30" height="30" fill="rgb(21,21,21)"/><rect x="1170" y="270" width="30" height="30" fill="rgb(16,16,16)"/><rect x="1200" y="270" width="30" height="30" fill="rgb(11,11,11)"/><rect x="1230" y="270" width="30" height="30" fill="rgb(6,6,6)"/><rect x="1260" y="270" width="30" height="30" fill="rgb(2,2,2)"/><rect x="1290" y="270" width="30" height="30" fill="rgb(0,0,0)"/><rect x="1320" y="270" width="30" height="30" fill="rgb(0,0,0)"/><rect x="1350" y="270" width="30" height="30" fill="rgb(0,0,0)"/><rect x="1380" y="270" width="30" height="30" fill="rgb(0,0,0)"/><rect x="-60" y="300" width="30" height="30" fill="rgb(26,26,26)"/><rect x="-30" y="300" width="30" height="30" fill="rgb(26,26,26)"/><rect x="0" y="300" width="30" height="30" fill="rgb(28,28,28)"/><rect x="30" y="300" width="30" height="30" fill="rgb(35,35,35)"/><rect x="60" y="300" width="30" height="30" fill="rgb(43,43,43)"/><rect x="90" y="300" width="30" height="30" fill="rgb(56,56,56)"/><rect x="120" y="300" width="30" height="30" fill="rgb(72,72,72)"/><rect x="150" y="300" width="30" height="30" fill="rgb(91,91,91)"/><rect x="180" y="300" width="30" height="30" fill="rgb(110,110,110)"/><rect x="210" y="300" width="30" height="30" fill="rgb(124,124,124)"/><rect x="240" y="300" width="30" height="30" fill="rgb(131,131,131)"/><rect x="270" y="300" width="30" height="30" fill="rgb(132,132,132)"/><rect x="300" y="300" width="30" height="30" fill="rgb(130,130,130)"/><rect x="330" y="300" width="30" height="30" fill="rgb(128,128,128)"/><rect x="360" y="300" width="30" height="30" fill="rgb(128,128,128)"/><rect x="390" y="300" width="30" height="30" fill="rgb(130,130,130)"/><rect x="420" y="300" width="30" height="30" fill="rgb(135,135,135)"/><rect x="450" y="300" width="30" height="30" fill="rgb(141,141,141)"/><rect x="480" y="300" width="30" height="30" fill="rgb(149,149,149)"/><rect x="510" y="300" width="30" height="30" fill="rgb(158,158,158)"/><rect x="540" y="300" width="30" height="30" fill="rgb(165,165,165)"/><rect x="570" y="300" width="30" height="30" fill="rgb(170,170,170)"/><rect x="600" y="300" width="30" height="30" fill="rgb(171,171,171)"/><rect x="630" y="300" width="30" height="30" fill="rgb(167,167,167)"/><rect x="660" y="300" width="30" height="30" fill="rgb(158,158,158)"/><rect x="690" y="300" width="30" height="30" fill="rgb(152,152,152)"/><rect x="720" y="300" width="30" height="30" fill="rgb(154,154,154)"/><rect x="750" y="300" width="30" height="30" fill="rgb(163,163,163)"/><rect x="780" y="300" width="30" height="30" fill="rgb(169,169,169)"/><rect x="810" y="300" width="30" height="30" fill="rgb(166,166,166)"/><rect x="840" y="300" width="30" height="30" fill="rgb(152,152,152)"/><rect x="870" y="300" width="30" height="30" fill="rgb(131,131,131)"/><rect x="900" y="300" width="30" height="30" fill="rgb(107,107,107)"/><rect x="930" y="300" width="30" height="30" fill="rgb(85,85,85)"/><rect x="960" y="300" width="30" height="30" fill="rgb(67,67,67)"/><rect x="990" y="300" width="30" height="30" fill="rgb(53,53,53)"/><rect x="1020" y="300" width="30" height="30" fill="rgb(43,43,43)"/><rect x="1050" y="300" width="30" height="30" fill="rgb(37,37,37)"/><rect x="1080" y="300" width="30" height="30" fill="rgb(31,31,31)"/><rect x="1110" y="300" width="30" height="30" fill="rgb(26,26,26)"/><rect x="1140" y="300" width="30" height="30" fill="rgb(20,20,20)"/><rect x="1170" y="300" width="30" height="30" fill="rgb(13,13,13)"/><rect x="1200" y="300" width="30" height="30" fill="rgb(7,7,7)"/><rect x="1230" y="300" width="30" height="30" fill="rgb(2,2,2)"/><rect x="1260" y="300" width="30" height="30" fill="rgb(0,0,0)"/><rect x="1290" y="300" width="30" height="30" fill="rgb(0,0,0)"/><rect x="1320" y="300" width="30" height="30" fill="rgb(0,0,0)"/><rect x="1350" y="300" width="30" height="30" fill="rgb(0,0,0)"/><rect x="1380" y="300" width="30" height="30" fill="rgb(0,0,0)"/><rect x="-60" y="330" width="30" height="30" fill="rgb(16,16,16)"/><rect x="-30" y="330" width="30" height="30" fill="rgb(16,16,16)"/><rect x="0" y="330" width="30" height="30" fill="rgb(19,19,19)"/><rect x="30" y="330" width="30" height="30" fill="rgb(26,26,26)"/><rect x="60" y="330" width="30" height="30" fill="rgb(37,37,37)"/><rect x="90" y="330" width="30" height="30" fill="rgb(52,52,52)"/><rect x="120" y="330" width="30" height="30" fill="rgb(71,71,71)"/><rect x="150" y="330" width="30" height="30" fill="rgb(92,92,92)"/><rect x="180" y="330" width="30" height="30" fill="rgb(112,112,112)"/><rect x="210" y="330" width="30" height="30" fill="rgb(126,126,126)"/><rect x="240" y="330" width="30" height="30" fill="rgb(132,132,132)"/><rect x="270" y="330" width="30" height="30" fill="rgb(132,132,132)"/><rect x="300" y="330" width="30" height="30" fill="rgb(129,129,129)"/><rect x="330" y="330" width="30" height="30" fill="rgb(126,126,126)"/><rect x="360" y="330" width="30" height="30" fill="rgb(124,124,124)"/><rect x="390" y="330" width="30" height="30" fill="rgb(124,124,124)"/><rect x="420" y="330" width="30" height="30" fill="rgb(128,128,128)"/><rect x="450" y="330" width="30" height="30" fill="rgb(134,134,134)"/><rect x="480" y="330" width="30" height="30" fill="rgb(142,142,142)"/><rect x="510" y="330" width="30" height="30" fill="rgb(152,152,152)"/><rect x="540" y="330" width="30" height="30" fill="rgb(161,161,161)"/><rect x="570" y="330" width="30" height="30" fill="rgb(167,167,167)"/><rect x="600" y="330" width="30" height="30" fill="rgb(170,170,170)"/><rect x="630" y="330" width="30" height="30" fill="rgb(166,166,166)"/><rect x="660" y="330" width="30" height="30" fill="rgb(158,158,158)"/><rect x="690" y="330" width="30" height="30" fill="rgb(154,154,154)"/><rect x="720" y="330" width="30" height="30" fill="rgb(157,157,157)"/><rect x="750" y="330" width="30" height="30" fill="rgb(163,163,163)"/><rect x="780" y="330" width="30" height="30" fill="rgb(163,163,163)"/><rect x="810" y="330" width="30" height="30" fill="rgb(153,153,153)"/><rect x="840" y="330" width="30" height="30" fill="rgb(134,134,134)"/><rect x="870" y="330" width="30" height="30" fill="rgb(111,111,111)"/><rect x="900" y="330" width="30" height="30" fill="rgb(89,89,89)"/><rect x="930" y="330" width="30" height="30" fill="rgb(71,71,71)"/><rect x="960" y="330" width="30" height="30" fill="rgb(57,57,57)"/><rect x="990" y="330" width="30" height="30" fill="rgb(47,47,47)"/><rect x="1020" y="330" width="30" height="30" fill="rgb(41,41,41)"/><rect x="1050" y="330" width="30" height="30" fill="rgb(36,36,36)"/><rect x="1080" y="330" width="30" height="30" fill="rgb(32,32,32)"/><rect x="1110" y="330" width="30" height="30" fill="rgb(27,27,27)"/><rect x="1140" y="330" width="30" height="30" fill="rgb(20,20,20)"/><rect x="1170" y="330" width="30" height="30" fill="rgb(13,13,13)"/><rect x="1200" y="330" width="30" height="30" fill="rgb(7,7,7)"/><rect x="1230" y="330" width="30" height="30" fill="rgb(3,3,3)"/><rect x="1260" y="330" width="30" height="30" fill="rgb(0,0,0)"/><rect x="1290" y="330" width="30" height="30" fill="rgb(0,0,0)"/><rect x="1320" y="330" width="30" height="30" fill="rgb(0,0,0)"/><rect x="1350" y="330" width="30" height="30" fill="rgb(0,0,0)"/><rect x="1380" y="330" width="30" height="30" fill="rgb(0,0,0)"/><rect x="-60" y="360" width="30" height="30" fill="rgb(8,8,8)"/><rect x="-30" y="360" width="30" height="30" fill="rgb(8,8,8)"/><rect x="0" y="360" width="30" height="30" fill="rgb(11,11,11)"/><rect x="30" y="360" width="30" height="30" fill="rgb(19,19,19)"/><rect x="60" y="360" width="30" height="30" fill="rgb(31,31,31)"/><rect x="90" y="360" width="30" height="30" fill="rgb(49,49,49)"/><rect x="120" y="360" width="30" height="30" fill="rgb(71,71,71)"/><rect x="150" y="360" width="30" height="30" fill="rgb(94,94,94)"/><rect x="180" y="360" width="30" height="30" fill="rgb(115,115,115)"/><rect x="210" y="360" width="30" height="30" fill="rgb(129,129,129)"/><rect x="240" y="360" width="30" height="30" fill="rgb(135,135,135)"/><rect x="270" y="360" width="30" height="30" fill="rgb(135,135,135)"/><rect x="300" y="360" width="30" height="30" fill="rgb(131,131,131)"/><rect x="330" y="360" width="30" height="30" fill="rgb(126,126,126)"/><rect x="360" y="360" width="30" height="30" fill="rgb(122,122,122)"/><rect x="390" y="360" width="30" height="30" fill="rgb(121,121,121)"/><rect x="420" y="360" width="30" height="30" fill="rgb(122,122,122)"/><rect x="450" y="360" width="30" height="30" fill="rgb(127,127,127)"/><rect x="480" y="360" width="30" height="30" fill="rgb(134,134,134)"/><rect x="510" y="360" width="30" height="30" fill="rgb(144,144,144)"/><rect x="540" y="360" width="30" height="30" fill="rgb(154,154,154)"/><rect x="570" y="360" width="30" height="30" fill="rgb(163,163,163)"/><rect x="600" y="360" width="30" height="30" fill="rgb(167,167,167)"/><rect x="630" y="360" width="30" height="30" fill="rgb(165,165,165)"/><rect x="660" y="360" width="30" height="30" fill="rgb(158,158,158)"/><rect x="690" y="360" width="30" height="30" fill="rgb(154,154,154)"/><rect x="720" y="360" width="30" height="30" fill="rgb(155,155,155)"/><rect x="750" y="360" width="30" height="30" fill="rgb(154,154,154)"/><rect x="780" y="360" width="30" height="30" fill="rgb(145,145,145)"/><rect x="810" y="360" width="30" height="30" fill="rgb(127,127,127)"/><rect x="840" y="360" width="30" height="30" fill="rgb(105,105,105)"/><rect x="870" y="360" width="30" height="30" fill="rgb(85,85,85)"/><rect x="900" y="360" width="30" height="30" fill="rgb(68,68,68)"/><rect x="930" y="360" width="30" height="30" fill="rgb(56,56,56)"/><rect x="960" y="360" width="30" height="30" fill="rgb(47,47,47)"/><rect x="990" y="360" width="30" height="30" fill="rgb(41,41,41)"/><rect x="1020" y="360" width="30" height="30" fill="rgb(37,37,37)"/><rect x="1050" y="360" width="30" height="30" fill="rgb(34,34,34)"/><rect x="1080" y="360" width="30" height="30" fill="rgb(31,31,31)"/><rect x="1110" y="360" width="30" height="30" fill="rgb(27,27,27)"/><rect x="1140" y="360" width="30" height="30" fill="rgb(21,21,21)"/><rect x="1170" y="360" width="30" height="30" fill="rgb(15,15,15)"/><rect x="1200" y="360" width="30" height="30" fill="rgb(10,10,10)"/><rect x="1230" y="360" width="30" height="30" fill="rgb(6,6,6)"/><rect x="1260" y="360" width="30" height="30" fill="rgb(2,2,2)"/><rect x="1290" y="360" width="30" height="30" fill="rgb(0,0,0)"/><rect x="1320" y="360" width="30" height="30" fill="rgb(0,0,0)"/><rect x="1350" y="360" width="30" height="30" fill="rgb(0,0,0)"/><rect x="1380" y="360" width="30" height="30" fill="rgb(0,0,0)"/><rect x="-60" y="390" width="30" height="30" fill="rgb(0,0,0)"/><rect x="-30" y="390" width="30" height="30" fill="rgb(0,0,0)"/><rect x="0" y="390" width="30" height="30" fill="rgb(3,3,3)"/><rect x="30" y="390" width="30" height="30" fill="rgb(12,12,12)"/><rect x="60" y="390" width="30" height="30" fill="rgb(26,26,26)"/><rect x="90" y="390" width="30" height="30" fill="rgb(45,45,45)"/><rect x="120" y="390" width="30" height="30" fill="rgb(69,69,69)"/><rect x="150" y="390" width="30" height="30" fill="rgb(94,94,94)"/><rect x="180" y="390" width="30" height="30" fill="rgb(115,115,115)"/><rect x="210" y="390" width="30" height="30" fill="rgb(130,130,130)"/><rect x="240" y="390" width="30" height="30" fill="rgb(136,136,136)"/><rect x="270" y="390" width="30" height="30" fill="rgb(136,136,136)"/><rect x="300" y="390" width="30" height="30" fill="rgb(132,132,132)"/><rect x="330" y="390" width="30" height="30" fill="rgb(127,127,127)"/><rect x="360" y="390" width="30" height="30" fill="rgb(122,122,122)"/><rect x="390" y="390" width="30" height="30" fill="rgb(119,119,119)"/><rect x="420" y="390" width="30" height="30" fill="rgb(118,118,118)"/><rect x="450" y="390" width="30" height="30" fill="rgb(120,120,120)"/><rect x="480" y="390" width="30" height="30" fill="rgb(125,125,125)"/><rect x="510" y="390" width="30" height="30" fill="rgb(133,133,133)"/><rect x="540" y="390" width="30" height="30" fill="rgb(144,144,144)"/><rect x="570" y="390" width="30" height="30" fill="rgb(154,154,154)"/><rect x="600" y="390" width="30" height="30" fill="rgb(160,160,160)"/><rect x="630" y="390" width="30" height="30" fill="rgb(159,159,159)"/><rect x="660" y="390" width="30" height="30" fill="rgb(153,153,153)"/><rect x="690" y="390" width="30" height="30" fill="rgb(146,146,146)"/><rect x="720" y="390" width="30" height="30" fill="rgb(138,138,138)"/><rect x="750" y="390" width="30" height="30" fill="rgb(126,126,126)"/><rect x="780" y="390" width="30" height="30" fill="rgb(109,109,109)"/><rect x="810" y="390" width="30" height="30" fill="rgb(90,90,90)"/><rect x="840" y="390" width="30" height="30" fill="rgb(73,73,73)"/><rect x="870" y="390" width="30" height="30" fill="rgb(60,60,60)"/><rect x="900" y="390" width="30" height="30" fill="rgb(50,50,50)"/><rect x="930" y="390" width="30" height="30" fill="rgb(44,44,44)"/><rect x="960" y="390" width="30" height="30" fill="rgb(39,39,39)"/><rect x="990" y="390" width="30" height="30" fill="rgb(36,36,36)"/><rect x="1020" y="390" width="30" height="30" fill="rgb(34,34,34)"/><rect x="1050" y="390" width="30" height="30" fill="rgb(33,33,33)"/><rect x="1080" y="390" width="30" height="30" fill="rgb(31,31,31)"/><rect x="1110" y="390" width="30" height="30" fill="rgb(27,27,27)"/><rect x="1140" y="390" width="30" height="30" fill="rgb(23,23,23)"/><rect x="1170" y="390" width="30" height="30" fill="rgb(18,18,18)"/><rect x="1200" y="390" width="30" height="30" fill="rgb(14,14,14)"/><rect x="1230" y="390" width="30" height="30" fill="rgb(10,10,10)"/><rect x="1260" y="390" width="30" height="30" fill="rgb(7,7,7)"/><rect x="1290" y="390" width="30" height="30" fill="rgb(3,3,3)"/><rect x="1320" y="390" width="30" height="30" fill="rgb(0,0,0)"/><rect x="1350" y="390" width="30" height="30" fill="rgb(0,0,0)"/><rect x="1380" y="390" width="30" height="30" fill="rgb(0,0,0)"/><rect x="-60" y="420" width="30" height="30" fill="rgb(0,0,0)"/><rect x="-30" y="420" width="30" height="30" fill="rgb(0,0,0)"/><rect x="0" y="420" width="30" height="30" fill="rgb(0,0,0)"/><rect x="30" y="420" width="30" height="30" fill="rgb(6,6,6)"/><rect x="60" y="420" width="30" height="30" fill="rgb(20,20,20)"/><rect x="90" y="420" width="30" height="30" fill="rgb(40,40,40)"/><rect x="120" y="420" width="30" height="30" fill="rgb(66,66,66)"/><rect x="150" y="420" width="30" height="30" fill="rgb(92,92,92)"/><rect x="180" y="420" width="30" height="30" fill="rgb(114,114,114)"/><rect x="210" y="420" width="30" height="30" fill="rgb(129,129,129)"/><rect x="240" y="420" width="30" height="30" fill="rgb(135,135,135)"/><rect x="270" y="420" width="30" height="30" fill="rgb(135,135,135)"/><rect x="300" y="420" width="30" height="30" fill="rgb(132,132,132)"/><rect x="330" y="420" width="30" height="30" fill="rgb(127,127,127)"/><rect x="360" y="420" width="30" height="30" fill="rgb(122,122,122)"/><rect x="390" y="420" width="30" height="30" fill="rgb(119,119,119)"/><rect x="420" y="420" width="30" height="30" fill="rgb(117,117,117)"/><rect x="450" y="420" width="30" height="30" fill="rgb(117,117,117)"/><rect x="480" y="420" width="30" height="30" fill="rgb(119,119,119)"/><rect x="510" y="420" width="30" height="30" fill="rgb(123,123,123)"/><rect x="540" y="420" width="30" height="30" fill="rgb(130,130,130)"/><rect x="570" y="420" width="30" height="30" fill="rgb(138,138,138)"/><rect x="600" y="420" width="30" height="30" fill="rgb(141,141,141)"/><rect x="630" y="420" width="30" height="30" fill="rgb(139,139,139)"/><rect x="660" y="420" width="30" height="30" fill="rgb(131,131,131)"/><rect x="690" y="420" width="30" height="30" fill="rgb(119,119,119)"/><rect x="720" y="420" width="30" height="30" fill="rgb(102,102,102)"/><rect x="750" y="420" width="30" height="30" fill="rgb(86,86,86)"/><rect x="780" y="420" width="30" height="30" fill="rgb(71,71,71)"/><rect x="810" y="420" width="30" height="30" fill="rgb(60,60,60)"/><rect x="840" y="420" width="30" height="30" fill="rgb(50,50,50)"/><rect x="870" y="420" width="30" height="30" fill="rgb(44,44,44)"/><rect x="900" y="420" width="30" height="30" fill="rgb(39,39,39)"/><rect x="930" y="420" width="30" height="30" fill="rgb(36,36,36)"/><rect x="960" y="420" width="30" height="30" fill="rgb(34,34,34)"/><rect x="990" y="420" width="30" height="30" fill="rgb(33,33,33)"/><rect x="1020" y="420" width="30" height="30" fill="rgb(33,33,33)"/><rect x="1050" y="420" width="30" height="30" fill="rgb(32,32,32)"/><rect x="1080" y="420" width="30" height="30" fill="rgb(31,31,31)"/><rect x="1110" y="420" width="30" height="30" fill="rgb(28,28,28)"/><rect x="1140" y="420" width="30" height="30" fill="rgb(25,25,25)"/><rect x="1170" y="420" width="30" height="30" fill="rgb(21,21,21)"/><rect x="1200" y="420" width="30" height="30" fill="rgb(17,17,17)"/><rect x="1230" y="420" width="30" height="30" fill="rgb(13,13,13)"/><rect x="1260" y="420" width="30" height="30" fill="rgb(10,10,10)"/><rect x="1290" y="420" width="30" height="30" fill="rgb(6,6,6)"/><rect x="1320" y="420" width="30" height="30" fill="rgb(3,3,3)"/><rect x="1350" y="420" width="30" height="30" fill="rgb(1,1,1)"/><rect x="1380" y="420" width="30" height="30" fill="rgb(1,1,1)"/><rect x="-60" y="450" width="30" height="30" fill="rgb(0,0,0)"/><rect x="-30" y="450" width="30" height="30" fill="rgb(0,0,0)"/><rect x="0" y="450" width="30" height="30" fill="rgb(0,0,0)"/><rect x="30" y="450" width="30" height="30" fill="rgb(3,3,3)"/><rect x="60" y="450" width="30" height="30" fill="rgb(17,17,17)"/><rect x="90" y="450" width="30" height="30" fill="rgb(37,37,37)"/><rect x="120" y="450" width="30" height="30" fill="rgb(63,63,63)"/><rect x="150" y="450" width="30" height="30" fill="rgb(91,91,91)"/><rect x="180" y="450" width="30" height="30" fill="rgb(114,114,114)"/><rect x="210" y="450" width="30" height="30" fill="rgb(129,129,129)"/><rect x="240" y="450" width="30" height="30" fill="rgb(135,135,135)"/><rect x="270" y="450" width="30" height="30" fill="rgb(135,135,135)"/><rect x="300" y="450" width="30" height="30" fill="rgb(131,131,131)"/><rect x="330" y="450" width="30" height="30" fill="rgb(127,127,127)"/><rect x="360" y="450" width="30" height="30" fill="rgb(123,123,123)"/><rect x="390" y="450" width="30" height="30" fill="rgb(120,120,120)"/><rect x="420" y="450" width="30" height="30" fill="rgb(119,119,119)"/><rect x="450" y="450" width="30" height="30" fill="rgb(118,118,118)"/><rect x="480" y="450" width="30" height="30" fill="rgb(119,119,119)"/><rect x="510" y="450" width="30" height="30" fill="rgb(121,121,121)"/><rect x="540" y="450" width="30" height="30" fill="rgb(124,124,124)"/><rect x="570" y="450" width="30" height="30" fill="rgb(125,125,125)"/><rect x="600" y="450" width="30" height="30" fill="rgb(123,123,123)"/><rect x="630" y="450" width="30" height="30" fill="rgb(120,120,120)"/><rect x="660" y="450" width="30" height="30" fill="rgb(114,114,114)"/><rect x="690" y="450" width="30" height="30" fill="rgb(100,100,100)"/><rect x="720" y="450" width="30" height="30" fill="rgb(81,81,81)"/><rect x="750" y="450" width="30" height="30" fill="rgb(65,65,65)"/><rect x="780" y="450" width="30" height="30" fill="rgb(54,54,54)"/><rect x="810" y="450" width="30" height="30" fill="rgb(47,47,47)"/><rect x="840" y="450" width="30" height="30" fill="rgb(42,42,42)"/><rect x="870" y="450" width="30" height="30" fill="rgb(38,38,38)"/><rect x="900" y="450" width="30" height="30" fill="rgb(36,36,36)"/><rect x="930" y="450" width="30" height="30" fill="rgb(34,34,34)"/><rect x="960" y="450" width="30" height="30" fill="rgb(33,33,33)"/><rect x="990" y="450" width="30" height="30" fill="rgb(33,33,33)"/><rect x="1020" y="450" width="30" height="30" fill="rgb(33,33,33)"/><rect x="1050" y="450" width="30" height="30" fill="rgb(33,33,33)"/><rect x="1080" y="450" width="30" height="30" fill="rgb(33,33,33)"/><rect x="1110" y="450" width="30" height="30" fill="rgb(31,31,31)"/><rect x="1140" y="450" width="30" height="30" fill="rgb(27,27,27)"/><rect x="1170" y="450" width="30" height="30" fill="rgb(23,23,23)"/><rect x="1200" y="450" width="30" height="30" fill="rgb(18,18,18)"/><rect x="1230" y="450" width="30" height="30" fill="rgb(14,14,14)"/><rect x="1260" y="450" width="30" height="30" fill="rgb(9,9,9)"/><rect x="1290" y="450" width="30" height="30" fill="rgb(5,5,5)"/><rect x="1320" y="450" width="30" height="30" fill="rgb(1,1,1)"/><rect x="1350" y="450" width="30" height="30" fill="rgb(0,0,0)"/><rect x="1380" y="450" width="30" height="30" fill="rgb(0,0,0)"/><rect x="-60" y="480" width="30" height="30" fill="rgb(0,0,0)"/><rect x="-30" y="480" width="30" height="30" fill="rgb(0,0,0)"/><rect x="0" y="480" width="30" height="30" fill="rgb(0,0,0)"/><rect x="30" y="480" width="30" height="30" fill="rgb(3,3,3)"/><rect x="60" y="480" width="30" height="30" fill="rgb(17,17,17)"/><rect x="90" y="480" width="30" height="30" fill="rgb(38,38,38)"/><rect x="120" y="480" width="30" height="30" fill="rgb(64,64,64)"/><rect x="150" y="480" width="30" height="30" fill="rgb(93,93,93)"/><rect x="180" y="480" width="30" height="30" fill="rgb(116,116,116)"/><rect x="210" y="480" width="30" height="30" fill="rgb(131,131,131)"/><rect x="240" y="480" width="30" height="30" fill="rgb(137,137,137)"/><rect x="270" y="480" width="30" height="30" fill="rgb(136,136,136)"/><rect x="300" y="480" width="30" height="30" fill="rgb(133,133,133)"/><rect x="330" y="480" width="30" height="30" fill="rgb(129,129,129)"/><rect x="360" y="480" width="30" height="30" fill="rgb(126,126,126)"/><rect x="390" y="480" width="30" height="30" fill="rgb(124,124,124)"/><rect x="420" y="480" width="30" height="30" fill="rgb(124,124,124)"/><rect x="450" y="480" width="30" height="30" fill="rgb(124,124,124)"/><rect x="480" y="480" width="30" height="30" fill="rgb(126,126,126)"/><rect x="510" y="480" width="30" height="30" fill="rgb(126,126,126)"/><rect x="540" y="480" width="30" height="30" fill="rgb(125,125,125)"/><rect x="570" y="480" width="30" height="30" fill="rgb(122,122,122)"/><rect x="600" y="480" width="30" height="30" fill="rgb(119,119,119)"/><rect x="630" y="480" width="30" height="30" fill="rgb(117,117,117)"/><rect x="660" y="480" width="30" height="30" fill="rgb(112,112,112)"/><rect x="690" y="480" width="30" height="30" fill="rgb(101,101,101)"/><rect x="720" y="480" width="30" height="30" fill="rgb(82,82,82)"/><rect x="750" y="480" width="30" height="30" fill="rgb(65,65,65)"/><rect x="780" y="480" width="30" height="30" fill="rgb(55,55,55)"/><rect x="810" y="480" width="30" height="30" fill="rgb(48,48,48)"/><rect x="840" y="480" width="30" height="30" fill="rgb(44,44,44)"/><rect x="870" y="480" width="30" height="30" fill="rgb(40,40,40)"/><rect x="900" y="480" width="30" height="30" fill="rgb(37,37,37)"/><rect x="930" y="480" width="30" height="30" fill="rgb(36,36,36)"/><rect x="960" y="480" width="30" height="30" fill="rgb(35,35,35)"/><rect x="990" y="480" width="30" height="30" fill="rgb(35,35,35)"/><rect x="1020" y="480" width="30" height="30" fill="rgb(35,35,35)"/><rect x="1050" y="480" width="30" height="30" fill="rgb(36,36,36)"/><rect x="1080" y="480" width="30" height="30" fill="rgb(36,36,36)"/><rect x="1110" y="480" width="30" height="30" fill="rgb(34,34,34)"/><rect x="1140" y="480" width="30" height="30" fill="rgb(30,30,30)"/><rect x="1170" y="480" width="30" height="30" fill="rgb(24,24,24)"/><rect x="1200" y="480" width="30" height="30" fill="rgb(18,18,18)"/><rect x="1230" y="480" width="30" height="30" fill="rgb(11,11,11)"/><rect x="1260" y="480" width="30" height="30" fill="rgb(4,4,4)"/><rect x="1290" y="480" width="30" height="30" fill="rgb(0,0,0)"/><rect x="1320" y="480" width="30" height="30" fill="rgb(0,0,0)"/><rect x="1350" y="480" width="30" height="30" fill="rgb(0,0,0)"/><rect x="1380" y="480" width="30" height="30" fill="rgb(0,0,0)"/><rect x="-60" y="510" width="30" height="30" fill="rgb(0,0,0)"/><rect x="-30" y="510" width="30" height="30" fill="rgb(0,0,0)"/><rect x="0" y="510" width="30" height="30" fill="rgb(0,0,0)"/><rect x="30" y="510" width="30" height="30" fill="rgb(9,9,9)"/><rect x="60" y="510" width="30" height="30" fill="rgb(23,23,23)"/><rect x="90" y="510" width="30" height="30" fill="rgb(44,44,44)"/><rect x="120" y="510" width="30" height="30" fill="rgb(70,70,70)"/><rect x="150" y="510" width="30" height="30" fill="rgb(99,99,99)"/><rect x="180" y="510" width="30" height="30" fill="rgb(122,122,122)"/><rect x="210" y="510" width="30" height="30" fill="rgb(136,136,136)"/><rect x="240" y="510" width="30" height="30" fill="rgb(142,142,142)"/><rect x="270" y="510" width="30" height="30" fill="rgb(141,141,141)"/><rect x="300" y="510" width="30" height="30" fill="rgb(138,138,138)"/><rect x="330" y="510" width="30" height="30" fill="rgb(135,135,135)"/><rect x="360" y="510" width="30" height="30" fill="rgb(133,133,133)"/><rect x="390" y="510" width="30" height="30" fill="rgb(132,132,132)"/><rect x="420" y="510" width="30" height="30" fill="rgb(133,133,133)"/><rect x="450" y="510" width="30" height="30" fill="rgb(135,135,135)"/><rect x="480" y="510" width="30" height="30" fill="rgb(136,136,136)"/><rect x="510" y="510" width="30" height="30" fill="rgb(133,133,133)"/><rect x="540" y="510" width="30" height="30" fill="rgb(127,127,127)"/><rect x="570" y="510" width="30" height="30" fill="rgb(122,122,122)"/><rect x="600" y="510" width="30" height="30" fill="rgb(119,119,119)"/><rect x="630" y="510" width="30" height="30" fill="rgb(116,116,116)"/><rect x="660" y="510" width="30" height="30" fill="rgb(113,113,113)"/><rect x="690" y="510" width="30" height="30" fill="rgb(104,104,104)"/><rect x="720" y="510" width="30" height="30" fill="rgb(87,87,87)"/><rect x="750" y="510" width="30" height="30" fill="rgb(70,70,70)"/><rect x="780" y="510" width="30" height="30" fill="rgb(60,60,60)"/><rect x="810" y="510" width="30" height="30" fill="rgb(53,53,53)"/><rect x="840" y="510" width="30" height="30" fill="rgb(49,49,49)"/><rect x="870" y="510" width="30" height="30" fill="rgb(45,45,45)"/><rect x="900" y="510" width="30" height="30" fill="rgb(42,42,42)"/><rect x="930" y="510" width="30" height="30" fill="rgb(40,40,40)"/><rect x="960" y="510" width="30" height="30" fill="rgb(38,38,38)"/><rect x="990" y="510" width="30" height="30" fill="rgb(38,38,38)"/><rect x="1020" y="510" width="30" height="30" fill="rgb(39,39,39)"/><rect x="1050" y="510" width="30" height="30" fill="rgb(40,40,40)"/><rect x="1080" y="510" width="30" height="30" fill="rgb(40,40,40)"/><rect x="1110" y="510" width="30" height="30" fill="rgb(38,38,38)"/><rect x="1140" y="510" width="30" height="30" fill="rgb(33,33,33)"/><rect x="1170" y="510" width="30" height="30" fill="rgb(25,25,25)"/><rect x="1200" y="510" width="30" height="30" fill="rgb(15,15,15)"/><rect x="1230" y="510" width="30" height="30" fill="rgb(4,4,4)"/><rect x="1260" y="510" width="30" height="30" fill="rgb(0,0,0)"/><rect x="1290" y="510" width="30" height="30" fill="rgb(0,0,0)"/><rect x="1320" y="510" width="30" height="30" fill="rgb(0,0,0)"/><rect x="1350" y="510" width="30" height="30" fill="rgb(0,0,0)"/><rect x="1380" y="510" width="30" height="30" fill="rgb(0,0,0)"/><rect x="-60" y="540" width="30" height="30" fill="rgb(6,6,6)"/><rect x="-30" y="540" width="30" height="30" fill="rgb(6,6,6)"/><rect x="0" y="540" width="30" height="30" fill="rgb(9,9,9)"/><rect x="30" y="540" width="30" height="30" fill="rgb(17,17,17)"/><rect x="60" y="540" width="30" height="30" fill="rgb(31,31,31)"/><rect x="90" y="540" width="30" height="30" fill="rgb(52,52,52)"/><rect x="120" y="540" width="30" height="30" fill="rgb(79,79,79)"/><rect x="150" y="540" width="30" height="30" fill="rgb(107,107,107)"/><rect x="180" y="540" width="30" height="30" fill="rgb(129,129,129)"/><rect x="210" y="540" width="30" height="30" fill="rgb(143,143,143)"/><rect x="240" y="540" width="30" height="30" fill="rgb(149,149,149)"/><rect x="270" y="540" width="30" height="30" fill="rgb(149,149,149)"/><rect x="300" y="540" width="30" height="30" fill="rgb(147,147,147)"/><rect x="330" y="540" width="30" height="30" fill="rgb(145,145,145)"/><rect x="360" y="540" width="30" height="30" fill="rgb(144,144,144)"/><rect x="390" y="540" width="30" height="30" fill="rgb(145,145,145)"/><rect x="420" y="540" width="30" height="30" fill="rgb(147,147,147)"/><rect x="450" y="540" width="30" height="30" fill="rgb(148,148,148)"/><rect x="480" y="540" width="30" height="30" fill="rgb(146,146,146)"/><rect x="510" y="540" width="30" height="30" fill="rgb(137,137,137)"/><rect x="540" y="540" width="30" height="30" fill="rgb(127,127,127)"/><rect x="570" y="540" width="30" height="30" fill="rgb(120,120,120)"/><rect x="600" y="540" width="30" height="30" fill="rgb(117,117,117)"/><rect x="630" y="540" width="30" height="30" fill="rgb(116,116,116)"/><rect x="660" y="540" width="30" height="30" fill="rgb(113,113,113)"/><rect x="690" y="540" width="30" height="30" fill="rgb(106,106,106)"/><rect x="720" y="540" width="30" height="30" fill="rgb(91,91,91)"/><rect x="750" y="540" width="30" height="30" fill="rgb(75,75,75)"/><rect x="780" y="540" width="30" height="30" fill="rgb(64,64,64)"/><rect x="810" y="540" width="30" height="30" fill="rgb(58,58,58)"/><rect x="840" y="540" width="30" height="30" fill="rgb(54,54,54)"/><rect x="870" y="540" width="30" height="30" fill="rgb(50,50,50)"/><rect x="900" y="540" width="30" height="30" fill="rgb(47,47,47)"/><rect x="930" y="540" width="30" height="30" fill="rgb(44,44,44)"/><rect x="960" y="540" width="30" height="30" fill="rgb(42,42,42)"/><rect x="990" y="540" width="30" height="30" fill="rgb(42,42,42)"/><rect x="1020" y="540" width="30" height="30" fill="rgb(42,42,42)"/><rect x="1050" y="540" width="30" height="30" fill="rgb(43,43,43)"/><rect x="1080" y="540" width="30" height="30" fill="rgb(43,43,43)"/><rect x="1110" y="540" width="30" height="30" fill="rgb(40,40,40)"/><rect x="1140" y="540" width="30" height="30" fill="rgb(34,34,34)"/><rect x="1170" y="540" width="30" height="30" fill="rgb(23,23,23)"/><rect x="1200" y="540" width="30" height="30" fill="rgb(9,9,9)"/><rect x="1230" y="540" width="30" height="30" fill="rgb(0,0,0)"/><rect x="1260" y="540" width="30" height="30" fill="rgb(0,0,0)"/><rect x="1290" y="540" width="30" height="30" fill="rgb(0,0,0)"/><rect x="1320" y="540" width="30" height="30" fill="rgb(0,0,0)"/><rect x="1350" y="540" width="30" height="30" fill="rgb(0,0,0)"/><rect x="1380" y="540" width="30" height="30" fill="rgb(0,0,0)"/><rect x="-60" y="570" width="30" height="30" fill="rgb(16,16,16)"/><rect x="-30" y="570" width="30" height="30" fill="rgb(16,16,16)"/><rect x="0" y="570" width="30" height="30" fill="rgb(18,18,18)"/><rect x="30" y="570" width="30" height="30" fill="rgb(26,26,26)"/><rect x="60" y="570" width="30" height="30" fill="rgb(39,39,39)"/><rect x="90" y="570" width="30" height="30" fill="rgb(59,59,59)"/><rect x="120" y="570" width="30" height="30" fill="rgb(85,85,85)"/><rect x="150" y="570" width="30" height="30" fill="rgb(112,112,112)"/><rect x="180" y="570" width="30" height="30" fill="rgb(135,135,135)"/><rect x="210" y="570" width="30" height="30" fill="rgb(149,149,149)"/><rect x="240" y="570" width="30" height="30" fill="rgb(156,156,156)"/><rect x="270" y="570" width="30" height="30" fill="rgb(157,157,157)"/><rect x="300" y="570" width="30" height="30" fill="rgb(157,157,157)"/><rect x="330" y="570" width="30" height="30" fill="rgb(156,156,156)"/><rect x="360" y="570" width="30" height="30" fill="rgb(157,157,157)"/><rect x="390" y="570" width="30" height="30" fill="rgb(159,159,159)"/><rect x="420" y="570" width="30" height="30" fill="rgb(160,160,160)"/><rect x="450" y="570" width="30" height="30" fill="rgb(158,158,158)"/><rect x="480" y="570" width="30" height="30" fill="rgb(150,150,150)"/><rect x="510" y="570" width="30" height="30" fill="rgb(136,136,136)"/><rect x="540" y="570" width="30" height="30" fill="rgb(124,124,124)"/><rect x="570" y="570" width="30" height="30" fill="rgb(118,118,118)"/><rect x="600" y="570" width="30" height="30" fill="rgb(116,116,116)"/><rect x="630" y="570" width="30" height="30" fill="rgb(115,115,115)"/><rect x="660" y="570" width="30" height="30" fill="rgb(113,113,113)"/><rect x="690" y="570" width="30" height="30" fill="rgb(107,107,107)"/><rect x="720" y="570" width="30" height="30" fill="rgb(94,94,94)"/><rect x="750" y="570" width="30" height="30" fill="rgb(78,78,78)"/><rect x="780" y="570" width="30" height="30" fill="rgb(66,66,66)"/><rect x="810" y="570" width="30" height="30" fill="rgb(60,60,60)"/><rect x="840" y="570" width="30" height="30" fill="rgb(57,57,57)"/><rect x="870" y="570" width="30" height="30" fill="rgb(54,54,54)"/><rect x="900" y="570" width="30" height="30" fill="rgb(51,51,51)"/><rect x="930" y="570" width="30" height="30" fill="rgb(48,48,48)"/><rect x="960" y="570" width="30" height="30" fill="rgb(46,46,46)"/><rect x="990" y="570" width="30" height="30" fill="rgb(44,44,44)"/><rect x="1020" y="570" width="30" height="30" fill="rgb(44,44,44)"/><rect x="1050" y="570" width="30" height="30" fill="rgb(45,45,45)"/><rect x="1080" y="570" width="30" height="30" fill="rgb(44,44,44)"/><rect x="1110" y="570" width="30" height="30" fill="rgb(41,41,41)"/><rect x="1140" y="570" width="30" height="30" fill="rgb(34,34,34)"/><rect x="1170" y="570" width="30" height="30" fill="rgb(20,20,20)"/><rect x="1200" y="570" width="30" height="30" fill="rgb(1,1,1)"/><rect x="1230" y="570" width="30" height="30" fill="rgb(0,0,0)"/><rect x="1260" y="570" width="30" height="30" fill="rgb(0,0,0)"/><rect x="1290" y="570" width="30" height="30" fill="rgb(0,0,0)"/><rect x="1320" y="570" width="30" height="30" fill="rgb(0,0,0)"/><rect x="1350" y="570" width="30" height="30" fill="rgb(0,0,0)"/><rect x="1380" y="570" width="30" height="30" fill="rgb(0,0,0)"/><rect x="-60" y="600" width="30" height="30" fill="rgb(23,23,23)"/><rect x="-30" y="600" width="30" height="30" fill="rgb(23,23,23)"/><rect x="0" y="600" width="30" height="30" fill="rgb(25,25,25)"/><rect x="30" y="600" width="30" height="30" fill="rgb(32,32,32)"/><rect x="60" y="600" width="30" height="30" fill="rgb(44,44,44)"/><rect x="90" y="600" width="30" height="30" fill="rgb(62,62,62)"/><rect x="120" y="600" width="30" height="30" fill="rgb(87,87,87)"/><rect x="150" y="600" width="30" height="30" fill="rgb(113,113,113)"/><rect x="180" y="600" width="30" height="30" fill="rgb(137,137,137)"/><rect x="210" y="600" width="30" height="30" fill="rgb(152,152,152)"/><rect x="240" y="600" width="30" height="30" fill="rgb(161,161,161)"/><rect x="270" y="600" width="30" height="30" fill="rgb(164,164,164)"/><rect x="300" y="600" width="30" height="30" fill="rgb(165,165,165)"/><rect x="330" y="600" width="30" height="30" fill="rgb(166,166,166)"/><rect x="360" y="600" width="30" height="30" fill="rgb(167,167,167)"/><rect x="390" y="600" width="30" height="30" fill="rgb(168,168,168)"/><rect x="420" y="600" width="30" height="30" fill="rgb(167,167,167)"/><rect x="450" y="600" width="30" height="30" fill="rgb(161,161,161)"/><rect x="480" y="600" width="30" height="30" fill="rgb(148,148,148)"/><rect x="510" y="600" width="30" height="30" fill="rgb(132,132,132)"/><rect x="540" y="600" width="30" height="30" fill="rgb(120,120,120)"/><rect x="570" y="600" width="30" height="30" fill="rgb(115,115,115)"/><rect x="600" y="600" width="30" height="30" fill="rgb(113,113,113)"/><rect x="630" y="600" width="30" height="30" fill="rgb(113,113,113)"/><rect x="660" y="600" width="30" height="30" fill="rgb(112,112,112)"/><rect x="690" y="600" width="30" height="30" fill="rgb(106,106,106)"/><rect x="720" y="600" width="30" height="30" fill="rgb(95,95,95)"/><rect x="750" y="600" width="30" height="30" fill="rgb(80,80,80)"/><rect x="780" y="600" width="30" height="30" fill="rgb(68,68,68)"/><rect x="810" y="600" width="30" height="30" fill="rgb(62,62,62)"/><rect x="840" y="600" width="30" height="30" fill="rgb(58,58,58)"/><rect x="870" y="600" width="30" height="30" fill="rgb(55,55,55)"/><rect x="900" y="600" width="30" height="30" fill="rgb(52,52,52)"/><rect x="930" y="600" width="30" height="30" fill="rgb(50,50,50)"/><rect x="960" y="600" width="30" height="30" fill="rgb(47,47,47)"/><rect x="990" y="600" width="30" height="30" fill="rgb(46,46,46)"/><rect x="1020" y="600" width="30" height="30" fill="rgb(45,45,45)"/><rect x="1050" y="600" width="30" height="30" fill="rgb(45,45,45)"/><rect x="1080" y="600" width="30" height="30" fill="rgb(45,45,45)"/><rect x="1110" y="600" width="30" height="30" fill="rgb(41,41,41)"/><rect x="1140" y="600" width="30" height="30" fill="rgb(32,32,32)"/><rect x="1170" y="600" width="30" height="30" fill="rgb(16,16,16)"/><rect x="1200" y="600" width="30" height="30" fill="rgb(0,0,0)"/><rect x="1230" y="600" width="30" height="30" fill="rgb(0,0,0)"/><rect x="1260" y="600" width="30" height="30" fill="rgb(0,0,0)"/><rect x="1290" y="600" width="30" height="30" fill="rgb(0,0,0)"/><rect x="1320" y="600" width="30" height="30" fill="rgb(0,0,0)"/><rect x="1350" y="600" width="30" height="30" fill="rgb(0,0,0)"/><rect x="1380" y="600" width="30" height="30" fill="rgb(0,0,0)"/><rect x="-60" y="630" width="30" height="30" fill="rgb(27,27,27)"/><rect x="-30" y="630" width="30" height="30" fill="rgb(27,27,27)"/><rect x="0" y="630" width="30" height="30" fill="rgb(29,29,29)"/><rect x="30" y="630" width="30" height="30" fill="rgb(35,35,35)"/><rect x="60" y="630" width="30" height="30" fill="rgb(45,45,45)"/><rect x="90" y="630" width="30" height="30" fill="rgb(62,62,62)"/><rect x="120" y="630" width="30" height="30" fill="rgb(84,84,84)"/><rect x="150" y="630" width="30" height="30" fill="rgb(110,110,110)"/><rect x="180" y="630" width="30" height="30" fill="rgb(133,133,133)"/><rect x="210" y="630" width="30" height="30" fill="rgb(151,151,151)"/><rect x="240" y="630" width="30" height="30" fill="rgb(161,161,161)"/><rect x="270" y="630" width="30" height="30" fill="rgb(166,166,166)"/><rect x="300" y="630" width="30" height="30" fill="rgb(168,168,168)"/><rect x="330" y="630" width="30" height="30" fill="rgb(169,169,169)"/><rect x="360" y="630" width="30" height="30" fill="rgb(170,170,170)"/><rect x="390" y="630" width="30" height="30" fill="rgb(169,169,169)"/><rect x="420" y="630" width="30" height="30" fill="rgb(165,165,165)"/><rect x="450" y="630" width="30" height="30" fill="rgb(156,156,156)"/><rect x="480" y="630" width="30" height="30" fill="rgb(140,140,140)"/><rect x="510" y="630" width="30" height="30" fill="rgb(124,124,124)"/><rect x="540" y="630" width="30" height="30" fill="rgb(114,114,114)"/><rect x="570" y="630" width="30" height="30" fill="rgb(110,110,110)"/><rect x="600" y="630" width="30" height="30" fill="rgb(110,110,110)"/><rect x="630" y="630" width="30" height="30" fill="rgb(110,110,110)"/><rect x="660" y="630" width="30" height="30" fill="rgb(110,110,110)"/><rect x="690" y="630" width="30" height="30" fill="rgb(105,105,105)"/><rect x="720" y="630" width="30" height="30" fill="rgb(95,95,95)"/><rect x="750" y="630" width="30" height="30" fill="rgb(81,81,81)"/><rect x="780" y="630" width="30" height="30" fill="rgb(69,69,69)"/><rect x="810" y="630" width="30" height="30" fill="rgb(63,63,63)"/><rect x="840" y="630" width="30" height="30" fill="rgb(59,59,59)"/><rect x="870" y="630" width="30" height="30" fill="rgb(56,56,56)"/><rect x="900" y="630" width="30" height="30" fill="rgb(53,53,53)"/><rect x="930" y="630" width="30" height="30" fill="rgb(50,50,50)"/><rect x="960" y="630" width="30" height="30" fill="rgb(48,48,48)"/><rect x="990" y="630" width="30" height="30" fill="rgb(46,46,46)"/><rect x="1020" y="630" width="30" height="30" fill="rgb(45,45,45)"/><rect x="1050" y="630" width="30" height="30" fill="rgb(45,45,45)"/><rect x="1080" y="630" width="30" height="30" fill="rgb(43,43,43)"/><rect x="1110" y="630" width="30" height="30" fill="rgb(39,39,39)"/><rect x="1140" y="630" width="30" height="30" fill="rgb(29,29,29)"/><rect x="1170" y="630" width="30" height="30" fill="rgb(12,12,12)"/><rect x="1200" y="630" width="30" height="30" fill="rgb(0,0,0)"/><rect x="1230" y="630" width="30" height="30" fill="rgb(0,0,0)"/><rect x="1260" y="630" width="30" height="30" fill="rgb(0,0,0)"/><rect x="1290" y="630" width="30" height="30" fill="rgb(0,0,0)"/><rect x="1320" y="630" width="30" height="30" fill="rgb(0,0,0)"/><rect x="1350" y="630" width="30" height="30" fill="rgb(0,0,0)"/><rect x="1380" y="630" width="30" height="30" fill="rgb(0,0,0)"/><rect x="-60" y="660" width="30" height="30" fill="rgb(29,29,29)"/><rect x="-30" y="660" width="30" height="30" fill="rgb(29,29,29)"/><rect x="0" y="660" width="30" height="30" fill="rgb(31,31,31)"/><rect x="30" y="660" width="30" height="30" fill="rgb(36,36,36)"/><rect x="60" y="660" width="30" height="30" fill="rgb(44,44,44)"/><rect x="90" y="660" width="30" height="30" fill="rgb(59,59,59)"/><rect x="120" y="660" width="30" height="30" fill="rgb(79,79,79)"/><rect x="150" y="660" width="30" height="30" fill="rgb(103,103,103)"/><rect x="180" y="660" width="30" height="30" fill="rgb(126,126,126)"/><rect x="210" y="660" width="30" height="30" fill="rgb(143,143,143)"/><rect x="240" y="660" width="30" height="30" fill="rgb(154,154,154)"/><rect x="270" y="660" width="30" height="30" fill="rgb(159,159,159)"/><rect x="300" y="660" width="30" height="30" fill="rgb(162,162,162)"/><rect x="330" y="660" width="30" height="30" fill="rgb(163,163,163)"/><rect x="360" y="660" width="30" height="30" fill="rgb(163,163,163)"/><rect x="390" y="660" width="30" height="30" fill="rgb(161,161,161)"/><rect x="420" y="660" width="30" height="30" fill="rgb(155,155,155)"/><rect x="450" y="660" width="30" height="30" fill="rgb(143,143,143)"/><rect x="480" y="660" width="30" height="30" fill="rgb(127,127,127)"/><rect x="510" y="660" width="30" height="30" fill="rgb(113,113,113)"/><rect x="540" y="660" width="30" height="30" fill="rgb(106,106,106)"/><rect x="570" y="660" width="30" height="30" fill="rgb(104,104,104)"/><rect x="600" y="660" width="30" height="30" fill="rgb(105,105,105)"/><rect x="630" y="660" width="30" height="30" fill="rgb(107,107,107)"/><rect x="660" y="660" width="30" height="30" fill="rgb(106,106,106)"/><rect x="690" y="660" width="30" height="30" fill="rgb(103,103,103)"/><rect x="720" y="660" width="30" height="30" fill="rgb(93,93,93)"/><rect x="750" y="660" width="30" height="30" fill="rgb(80,80,80)"/><rect x="780" y="660" width="30" height="30" fill="rgb(69,69,69)"/><rect x="810" y="660" width="30" height="30" fill="rgb(63,63,63)"/><rect x="840" y="660" width="30" height="30" fill="rgb(59,59,59)"/><rect x="870" y="660" width="30" height="30" fill="rgb(56,56,56)"/><rect x="900" y="660" width="30" height="30" fill="rgb(53,53,53)"/><rect x="930" y="660" width="30" height="30" fill="rgb(50,50,50)"/><rect x="960" y="660" width="30" height="30" fill="rgb(47,47,47)"/><rect x="990" y="660" width="30" height="30" fill="rgb(45,45,45)"/><rect x="1020" y="660" width="30" height="30" fill="rgb(44,44,44)"/><rect x="1050" y="660" width="30" height="30" fill="rgb(43,43,43)"/><rect x="1080" y="660" width="30" height="30" fill="rgb(42,42,42)"/><rect x="1110" y="660" width="30" height="30" fill="rgb(37,37,37)"/><rect x="1140" y="660" width="30" height="30" fill="rgb(27,27,27)"/><rect x="1170" y="660" width="30" height="30" fill="rgb(10,10,10)"/><rect x="1200" y="660" width="30" height="30" fill="rgb(0,0,0)"/><rect x="1230" y="660" width="30" height="30" fill="rgb(0,0,0)"/><rect x="1260" y="660" width="30" height="30" fill="rgb(0,0,0)"/><rect x="1290" y="660" width="30" height="30" fill="rgb(0,0,0)"/><rect x="1320" y="660" width="30" height="30" fill="rgb(0,0,0)"/><rect x="1350" y="660" width="30" height="30" fill="rgb(0,0,0)"/><rect x="1380" y="660" width="30" height="30" fill="rgb(0,0,0)"/><rect x="-60" y="690" width="30" height="30" fill="rgb(30,30,30)"/><rect x="-30" y="690" width="30" height="30" fill="rgb(30,30,30)"/><rect x="0" y="690" width="30" height="30" fill="rgb(31,31,31)"/><rect x="30" y="690" width="30" height="30" fill="rgb(35,35,35)"/><rect x="60" y="690" width="30" height="30" fill="rgb(43,43,43)"/><rect x="90" y="690" width="30" height="30" fill="rgb(55,55,55)"/><rect x="120" y="690" width="30" height="30" fill="rgb(73,73,73)"/><rect x="150" y="690" width="30" height="30" fill="rgb(94,94,94)"/><rect x="180" y="690" width="30" height="30" fill="rgb(115,115,115)"/><rect x="210" y="690" width="30" height="30" fill="rgb(130,130,130)"/><rect x="240" y="690" width="30" height="30" fill="rgb(140,140,140)"/><rect x="270" y="690" width="30" height="30" fill="rgb(145,145,145)"/><rect x="300" y="690" width="30" height="30" fill="rgb(148,148,148)"/><rect x="330" y="690" width="30" height="30" fill="rgb(148,148,148)"/><rect x="360" y="690" width="30" height="30" fill="rgb(148,148,148)"/><rect x="390" y="690" width="30" height="30" fill="rgb(144,144,144)"/><rect x="420" y="690" width="30" height="30" fill="rgb(138,138,138)"/><rect x="450" y="690" width="30" height="30" fill="rgb(126,126,126)"/><rect x="480" y="690" width="30" height="30" fill="rgb(112,112,112)"/><rect x="510" y="690" width="30" height="30" fill="rgb(101,101,101)"/><rect x="540" y="690" width="30" height="30" fill="rgb(97,97,97)"/><rect x="570" y="690" width="30" height="30" fill="rgb(97,97,97)"/><rect x="600" y="690" width="30" height="30" fill="rgb(100,100,100)"/><rect x="630" y="690" width="30" height="30" fill="rgb(102,102,102)"/><rect x="660" y="690" width="30" height="30" fill="rgb(102,102,102)"/><rect x="690" y="690" width="30" height="30" fill="rgb(99,99,99)"/><rect x="720" y="690" width="30" height="30" fill="rgb(90,90,90)"/><rect x="750" y="690" width="30" height="30" fill="rgb(79,79,79)"/><rect x="780" y="690" width="30" height="30" fill="rgb(69,69,69)"/><rect x="810" y="690" width="30" height="30" fill="rgb(63,63,63)"/><rect x="840" y="690" width="30" height="30" fill="rgb(59,59,59)"/><rect x="870" y="690" width="30" height="30" fill="rgb(55,55,55)"/><rect x="900" y="690" width="30" height="30" fill="rgb(52,52,52)"/><rect x="930" y="690" width="30" height="30" fill="rgb(48,48,48)"/><rect x="960" y="690" width="30" height="30" fill="rgb(46,46,46)"/><rect x="990" y="690" width="30" height="30" fill="rgb(43,43,43)"/><rect x="1020" y="690" width="30" height="30" fill="rgb(42,42,42)"/><rect x="1050" y="690" width="30" height="30" fill="rgb(41,41,41)"/><rect x="1080" y="690" width="30" height="30" fill="rgb(39,39,39)"/><rect x="1110" y="690" width="30" height="30" fill="rgb(35,35,35)"/><rect x="1140" y="690" width="30" height="30" fill="rgb(25,25,25)"/><rect x="1170" y="690" width="30" height="30" fill="rgb(10,10,10)"/><rect x="1200" y="690" width="30" height="30" fill="rgb(0,0,0)"/><rect x="1230" y="690" width="30" height="30" fill="rgb(0,0,0)"/><rect x="1260" y="690" width="30" height="30" fill="rgb(0,0,0)"/><rect x="1290" y="690" width="30" height="30" fill="rgb(0,0,0)"/><rect x="1320" y="690" width="30" height="30" fill="rgb(0,0,0)"/><rect x="1350" y="690" width="30" height="30" fill="rgb(0,0,0)"/><rect x="1380" y="690" width="30" height="30" fill="rgb(0,0,0)"/><rect x="-60" y="720" width="30" height="30" fill="rgb(30,30,30)"/><rect x="-30" y="720" width="30" height="30" fill="rgb(30,30,30)"/><rect x="0" y="720" width="30" height="30" fill="rgb(31,31,31)"/><rect x="30" y="720" width="30" height="30" fill="rgb(35,35,35)"/><rect x="60" y="720" width="30" height="30" fill="rgb(41,41,41)"/><rect x="90" y="720" width="30" height="30" fill="rgb(52,52,52)"/><rect x="120" y="720" width="30" height="30" fill="rgb(68,68,68)"/><rect x="150" y="720" width="30" height="30" fill="rgb(87,87,87)"/><rect x="180" y="720" width="30" height="30" fill="rgb(103,103,103)"/><rect x="210" y="720" width="30" height="30" fill="rgb(115,115,115)"/><rect x="240" y="720" width="30" height="30" fill="rgb(122,122,122)"/><rect x="270" y="720" width="30" height="30" fill="rgb(126,126,126)"/><rect x="300" y="720" width="30" height="30" fill="rgb(128,128,128)"/><rect x="330" y="720" width="30" height="30" fill="rgb(128,128,128)"/><rect x="360" y="720" width="30" height="30" fill="rgb(127,127,127)"/><rect x="390" y="720" width="30" height="30" fill="rgb(124,124,124)"/><rect x="420" y="720" width="30" height="30" fill="rgb(117,117,117)"/><rect x="450" y="720" width="30" height="30" fill="rgb(107,107,107)"/><rect x="480" y="720" width="30" height="30" fill="rgb(96,96,96)"/><rect x="510" y="720" width="30" height="30" fill="rgb(89,89,89)"/><rect x="540" y="720" width="30" height="30" fill="rgb(87,87,87)"/><rect x="570" y="720" width="30" height="30" fill="rgb(89,89,89)"/><rect x="600" y="720" width="30" height="30" fill="rgb(93,93,93)"/><rect x="630" y="720" width="30" height="30" fill="rgb(96,96,96)"/><rect x="660" y="720" width="30" height="30" fill="rgb(97,97,97)"/><rect x="690" y="720" width="30" height="30" fill="rgb(94,94,94)"/><rect x="720" y="720" width="30" height="30" fill="rgb(86,86,86)"/><rect x="750" y="720" width="30" height="30" fill="rgb(76,76,76)"/><rect x="780" y="720" width="30" height="30" fill="rgb(67,67,67)"/><rect x="810" y="720" width="30" height="30" fill="rgb(62,62,62)"/><rect x="840" y="720" width="30" height="30" fill="rgb(58,58,58)"/><rect x="870" y="720" width="30" height="30" fill="rgb(55,55,55)"/><rect x="900" y="720" width="30" height="30" fill="rgb(51,51,51)"/><rect x="930" y="720" width="30" height="30" fill="rgb(47,47,47)"/><rect x="960" y="720" width="30" height="30" fill="rgb(44,44,44)"/><rect x="990" y="720" width="30" height="30" fill="rgb(41,41,41)"/><rect x="1020" y="720" width="30" height="30" fill="rgb(40,40,40)"/><rect x="1050" y="720" width="30" height="30" fill="rgb(39,39,39)"/><rect x="1080" y="720" width="30" height="30" fill="rgb(37,37,37)"/><rect x="1110" y="720" width="30" height="30" fill="rgb(33,33,33)"/><rect x="1140" y="720" width="30" height="30" fill="rgb(25,25,25)"/><rect x="1170" y="720" width="30" height="30" fill="rgb(14,14,14)"/><rect x="1200" y="720" width="30" height="30" fill="rgb(2,2,2)"/><rect x="1230" y="720" width="30" height="30" fill="rgb(0,0,0)"/><rect x="1260" y="720" width="30" height="30" fill="rgb(0,0,0)"/><rect x="1290" y="720" width="30" height="30" fill="rgb(0,0,0)"/><rect x="1320" y="720" width="30" height="30" fill="rgb(0,0,0)"/><rect x="1350" y="720" width="30" height="30" fill="rgb(0,0,0)"/><rect x="1380" y="720" width="30" height="30" fill="rgb(0,0,0)"/><rect x="-60" y="750" width="30" height="30" fill="rgb(31,31,31)"/><rect x="-30" y="750" width="30" height="30" fill="rgb(31,31,31)"/><rect x="0" y="750" width="30" height="30" fill="rgb(32,32,32)"/><rect x="30" y="750" width="30" height="30" fill="rgb(35,35,35)"/><rect x="60" y="750" width="30" height="30" fill="rgb(41,41,41)"/><rect x="90" y="750" width="30" height="30" fill="rgb(52,52,52)"/><rect x="120" y="750" width="30" height="30" fill="rgb(66,66,66)"/><rect x="150" y="750" width="30" height="30" fill="rgb(82,82,82)"/><rect x="180" y="750" width="30" height="30" fill="rgb(94,94,94)"/><rect x="210" y="750" width="30" height="30" fill="rgb(102,102,102)"/><rect x="240" y="750" width="30" height="30" fill="rgb(106,106,106)"/><rect x="270" y="750" width="30" height="30" fill="rgb(107,107,107)"/><rect x="300" y="750" width="30" height="30" fill="rgb(108,108,108)"/><rect x="330" y="750" width="30" height="30" fill="rgb(107,107,107)"/><rect x="360" y="750" width="30" height="30" fill="rgb(105,105,105)"/><rect x="390" y="750" width="30" height="30" fill="rgb(102,102,102)"/><rect x="420" y="750" width="30" height="30" fill="rgb(96,96,96)"/><rect x="450" y="750" width="30" height="30" fill="rgb(88,88,88)"/><rect x="480" y="750" width="30" height="30" fill="rgb(81,81,81)"/><rect x="510" y="750" width="30" height="30" fill="rgb(77,77,77)"/><rect x="540" y="750" width="30" height="30" fill="rgb(77,77,77)"/><rect x="570" y="750" width="30" height="30" fill="rgb(81,81,81)"/><rect x="600" y="750" width="30" height="30" fill="rgb(85,85,85)"/><rect x="630" y="750" width="30" height="30" fill="rgb(89,89,89)"/><rect x="660" y="750" width="30" height="30" fill="rgb(90,90,90)"/><rect x="690" y="750" width="30" height="30" fill="rgb(88,88,88)"/><rect x="720" y="750" width="30" height="30" fill="rgb(81,81,81)"/><rect x="750" y="750" width="30" height="30" fill="rgb(72,72,72)"/><rect x="780" y="750" width="30" height="30" fill="rgb(66,66,66)"/><rect x="810" y="750" width="30" height="30" fill="rgb(61,61,61)"/><rect x="840" y="750" width="30" height="30" fill="rgb(58,58,58)"/><rect x="870" y="750" width="30" height="30" fill="rgb(54,54,54)"/><rect x="900" y="750" width="30" height="30" fill="rgb(49,49,49)"/><rect x="930" y="750" width="30" height="30" fill="rgb(45,45,45)"/><rect x="960" y="750" width="30" height="30" fill="rgb(42,42,42)"/><rect x="990" y="750" width="30" height="30" fill="rgb(39,39,39)"/><rect x="1020" y="750" width="30" height="30" fill="rgb(38,38,38)"/><rect x="1050" y="750" width="30" height="30" fill="rgb(36,36,36)"/><rect x="1080" y="750" width="30" height="30" fill="rgb(35,35,35)"/><rect x="1110" y="750" width="30" height="30" fill="rgb(31,31,31)"/><rect x="1140" y="750" width="30" height="30" fill="rgb(26,26,26)"/><rect x="1170" y="750" width="30" height="30" fill="rgb(19,19,19)"/><rect x="1200" y="750" width="30" height="30" fill="rgb(11,11,11)"/><rect x="1230" y="750" width="30" height="30" fill="rgb(3,3,3)"/><rect x="1260" y="750" width="30" height="30" fill="rgb(0,0,0)"/><rect x="1290" y="750" width="30" height="30" fill="rgb(0,0,0)"/><rect x="1320" y="750" width="30" height="30" fill="rgb(0,0,0)"/><rect x="1350" y="750" width="30" height="30" fill="rgb(0,0,0)"/><rect x="1380" y="750" width="30" height="30" fill="rgb(0,0,0)"/><rect x="-60" y="780" width="30" height="30" fill="rgb(31,31,31)"/><rect x="-30" y="780" width="30" height="30" fill="rgb(31,31,31)"/><rect x="0" y="780" width="30" height="30" fill="rgb(32,32,32)"/><rect x="30" y="780" width="30" height="30" fill="rgb(35,35,35)"/><rect x="60" y="780" width="30" height="30" fill="rgb(41,41,41)"/><rect x="90" y="780" width="30" height="30" fill="rgb(52,52,52)"/><rect x="120" y="780" width="30" height="30" fill="rgb(66,66,66)"/><rect x="150" y="780" width="30" height="30" fill="rgb(79,79,79)"/><rect x="180" y="780" width="30" height="30" fill="rgb(88,88,88)"/><rect x="210" y="780" width="30" height="30" fill="rgb(93,93,93)"/><rect x="240" y="780" width="30" height="30" fill="rgb(94,94,94)"/><rect x="270" y="780" width="30" height="30" fill="rgb(92,92,92)"/><rect x="300" y="780" width="30" height="30" fill="rgb(90,90,90)"/><rect x="330" y="780" width="30" height="30" fill="rgb(88,88,88)"/><rect x="360" y="780" width="30" height="30" fill="rgb(85,85,85)"/><rect x="390" y="780" width="30" height="30" fill="rgb(82,82,82)"/><rect x="420" y="780" width="30" height="30" fill="rgb(77,77,77)"/><rect x="450" y="780" width="30" height="30" fill="rgb(72,72,72)"/><rect x="480" y="780" width="30" height="30" fill="rgb(68,68,68)"/><rect x="510" y="780" width="30" height="30" fill="rgb(67,67,67)"/><rect x="540" y="780" width="30" height="30" fill="rgb(68,68,68)"/><rect x="570" y="780" width="30" height="30" fill="rgb(72,72,72)"/><rect x="600" y="780" width="30" height="30" fill="rgb(77,77,77)"/><rect x="630" y="780" width="30" height="30" fill="rgb(81,81,81)"/><rect x="660" y="780" width="30" height="30" fill="rgb(83,83,83)"/><rect x="690" y="780" width="30" height="30" fill="rgb(81,81,81)"/><rect x="720" y="780" width="30" height="30" fill="rgb(76,76,76)"/><rect x="750" y="780" width="30" height="30" fill="rgb(69,69,69)"/><rect x="780" y="780" width="30" height="30" fill="rgb(64,64,64)"/><rect x="810" y="780" width="30" height="30" fill="rgb(61,61,61)"/><rect x="840" y="780" width="30" height="30" fill="rgb(57,57,57)"/><rect x="870" y="780" width="30" height="30" fill="rgb(53,53,53)"/><rect x="900" y="780" width="30" height="30" fill="rgb(48,48,48)"/><rect x="930" y="780" width="30" height="30" fill="rgb(44,44,44)"/><rect x="960" y="780" width="30" height="30" fill="rgb(40,40,40)"/><rect x="990" y="780" width="30" height="30" fill="rgb(37,37,37)"/><rect x="1020" y="780" width="30" height="30" fill="rgb(36,36,36)"/><rect x="1050" y="780" width="30" height="30" fill="rgb(35,35,35)"/><rect x="1080" y="780" width="30" height="30" fill="rgb(33,33,33)"/><rect x="1110" y="780" width="30" height="30" fill="rgb(31,31,31)"/><rect x="1140" y="780" width="30" height="30" fill="rgb(27,27,27)"/><rect x="1170" y="780" width="30" height="30" fill="rgb(23,23,23)"/><rect x="1200" y="780" width="30" height="30" fill="rgb(19,19,19)"/><rect x="1230" y="780" width="30" height="30" fill="rgb(14,14,14)"/><rect x="1260" y="780" width="30" height="30" fill="rgb(8,8,8)"/><rect x="1290" y="780" width="30" height="30" fill="rgb(2,2,2)"/><rect x="1320" y="780" width="30" height="30" fill="rgb(0,0,0)"/><rect x="1350" y="780" width="30" height="30" fill="rgb(0,0,0)"/><rect x="1380" y="780" width="30" height="30" fill="rgb(0,0,0)"/><rect x="-60" y="810" width="30" height="30" fill="rgb(31,31,31)"/><rect x="-30" y="810" width="30" height="30" fill="rgb(31,31,31)"/><rect x="0" y="810" width="30" height="30" fill="rgb(32,32,32)"/><rect x="30" y="810" width="30" height="30" fill="rgb(36,36,36)"/><rect x="60" y="810" width="30" height="30" fill="rgb(42,42,42)"/><rect x="90" y="810" width="30" height="30" fill="rgb(53,53,53)"/><rect x="120" y="810" width="30" height="30" fill="rgb(67,67,67)"/><rect x="150" y="810" width="30" height="30" fill="rgb(78,78,78)"/><rect x="180" y="810" width="30" height="30" fill="rgb(85,85,85)"/><rect x="210" y="810" width="30" height="30" fill="rgb(87,87,87)"/><rect x="240" y="810" width="30" height="30" fill="rgb(85,85,85)"/><rect x="270" y="810" width="30" height="30" fill="rgb(81,81,81)"/><rect x="300" y="810" width="30" height="30" fill="rgb(76,76,76)"/><rect x="330" y="810" width="30" height="30" fill="rgb(72,72,72)"/><rect x="360" y="810" width="30" height="30" fill="rgb(68,68,68)"/><rect x="390" y="810" width="30" height="30" fill="rgb(65,65,65)"/><rect x="420" y="810" width="30" height="30" fill="rgb(62,62,62)"/><rect x="450" y="810" width="30" height="30" fill="rgb(59,59,59)"/><rect x="480" y="810" width="30" height="30" fill="rgb(58,58,58)"/><rect x="510" y="810" width="30" height="30" fill="rgb(58,58,58)"/><rect x="540" y="810" width="30" height="30" fill="rgb(61,61,61)"/><rect x="570" y="810" width="30" height="30" fill="rgb(64,64,64)"/><rect x="600" y="810" width="30" height="30" fill="rgb(69,69,69)"/><rect x="630" y="810" width="30" height="30" fill="rgb(73,73,73)"/><rect x="660" y="810" width="30" height="30" fill="rgb(76,76,76)"/><rect x="690" y="810" width="30" height="30" fill="rgb(75,75,75)"/><rect x="720" y="810" width="30" height="30" fill="rgb(71,71,71)"/><rect x="750" y="810" width="30" height="30" fill="rgb(67,67,67)"/><rect x="780" y="810" width="30" height="30" fill="rgb(63,63,63)"/><rect x="810" y="810" width="30" height="30" fill="rgb(60,60,60)"/><rect x="840" y="810" width="30" height="30" fill="rgb(57,57,57)"/><rect x="870" y="810" width="30" height="30" fill="rgb(52,52,52)"/><rect x="900" y="810" width="30" height="30" fill="rgb(47,47,47)"/><rect x="930" y="810" width="30" height="30" fill="rgb(43,43,43)"/><rect x="960" y="810" width="30" height="30" fill="rgb(39,39,39)"/><rect x="990" y="810" width="30" height="30" fill="rgb(36,36,36)"/><rect x="1020" y="810" width="30" height="30" fill="rgb(34,34,34)"/><rect x="1050" y="810" width="30" height="30" fill="rgb(33,33,33)"/><rect x="1080" y="810" width="30" height="30" fill="rgb(32,32,32)"/><rect x="1110" y="810" width="30" height="30" fill="rgb(31,31,31)"/><rect x="1140" y="810" width="30" height="30" fill="rgb(29,29,29)"/><rect x="1170" y="810" width="30" height="30" fill="rgb(26,26,26)"/><rect x="1200" y="810" width="30" height="30" fill="rgb(24,24,24)"/><rect x="1230" y="810" width="30" height="30" fill="rgb(21,21,21)"/><rect x="1260" y="810" width="30" height="30" fill="rgb(18,18,18)"/><rect x="1290" y="810" width="30" height="30" fill="rgb(14,14,14)"/><rect x="1320" y="810" width="30" height="30" fill="rgb(9,9,9)"/><rect x="1350" y="810" width="30" height="30" fill="rgb(6,6,6)"/><rect x="1380" y="810" width="30" height="30" fill="rgb(6,6,6)"/><rect x="-60" y="840" width="30" height="30" fill="rgb(31,31,31)"/><rect x="-30" y="840" width="30" height="30" fill="rgb(31,31,31)"/><rect x="0" y="840" width="30" height="30" fill="rgb(32,32,32)"/><rect x="30" y="840" width="30" height="30" fill="rgb(36,36,36)"/><rect x="60" y="840" width="30" height="30" fill="rgb(43,43,43)"/><rect x="90" y="840" width="30" height="30" fill="rgb(54,54,54)"/><rect x="120" y="840" width="30" height="30" fill="rgb(68,68,68)"/><rect x="150" y="840" width="30" height="30" fill="rgb(78,78,78)"/><rect x="180" y="840" width="30" height="30" fill="rgb(84,84,84)"/><rect x="210" y="840" width="30" height="30" fill="rgb(84,84,84)"/><rect x="240" y="840" width="30" height="30" fill="rgb(80,80,80)"/><rect x="270" y="840" width="30" height="30" fill="rgb(74,74,74)"/><rect x="300" y="840" width="30" height="30" fill="rgb(67,67,67)"/><rect x="330" y="840" width="30" height="30" fill="rgb(60,60,60)"/><rect x="360" y="840" width="30" height="30" fill="rgb(56,56,56)"/><rect x="390" y="840" width="30" height="30" fill="rgb(52,52,52)"/><rect x="420" y="840" width="30" height="30" fill="rgb(50,50,50)"/><rect x="450" y="840" width="30" height="30" fill="rgb(49,49,49)"/><rect x="480" y="840" width="30" height="30" fill="rgb(50,50,50)"/><rect x="510" y="840" width="30" height="30" fill="rgb(52,52,52)"/><rect x="540" y="840" width="30" height="30" fill="rgb(54,54,54)"/><rect x="570" y="840" width="30" height="30" fill="rgb(58,58,58)"/><rect x="600" y="840" width="30" height="30" fill="rgb(62,62,62)"/><rect x="630" y="840" width="30" height="30" fill="rgb(66,66,66)"/><rect x="660" y="840" width="30" height="30" fill="rgb(70,70,70)"/><rect x="690" y="840" width="30" height="30" fill="rgb(70,70,70)"/><rect x="720" y="840" width="30" height="30" fill="rgb(68,68,68)"/><rect x="750" y="840" width="30" height="30" fill="rgb(65,65,65)"/><rect x="780" y="840" width="30" height="30" fill="rgb(62,62,62)"/><rect x="810" y="840" width="30" height="30" fill="rgb(60,60,60)"/><rect x="840" y="840" width="30" height="30" fill="rgb(56,56,56)"/><rect x="870" y="840" width="30" height="30" fill="rgb(52,52,52)"/><rect x="900" y="840" width="30" height="30" fill="rgb(47,47,47)"/><rect x="930" y="840" width="30" height="30" fill="rgb(42,42,42)"/><rect x="960" y="840" width="30" height="30" fill="rgb(38,38,38)"/><rect x="990" y="840" width="30" height="30" fill="rgb(35,35,35)"/><rect x="1020" y="840" width="30" height="30" fill="rgb(34,34,34)"/><rect x="1050" y="840" width="30" height="30" fill="rgb(33,33,33)"/><rect x="1080" y="840" width="30" height="30" fill="rgb(32,32,32)"/><rect x="1110" y="840" width="30" height="30" fill="rgb(31,31,31)"/><rect x="1140" y="840" width="30" height="30" fill="rgb(29,29,29)"/><rect x="1170" y="840" width="30" height="30" fill="rgb(28,28,28)"/><rect x="1200" y="840" width="30" height="30" fill="rgb(27,27,27)"/><rect x="1230" y="840" width="30" height="30" fill="rgb(25,25,25)"/><rect x="1260" y="840" width="30" height="30" fill="rgb(23,23,23)"/><rect x="1290" y="840" width="30" height="30" fill="rgb(21,21,21)"/><rect x="1320" y="840" width="30" height="30" fill="rgb(18,18,18)"/><rect x="1350" y="840" width="30" height="30" fill="rgb(16,16,16)"/><rect x="1380" y="840" width="30" height="30" fill="rgb(16,16,16)"/><rect x="-60" y="870" width="30" height="30" fill="rgb(32,32,32)"/><rect x="-30" y="870" width="30" height="30" fill="rgb(32,32,32)"/><rect x="0" y="870" width="30" height="30" fill="rgb(33,33,33)"/><rect x="30" y="870" width="30" height="30" fill="rgb(37,37,37)"/><rect x="60" y="870" width="30" height="30" fill="rgb(44,44,44)"/><rect x="90" y="870" width="30" height="30" fill="rgb(56,56,56)"/><rect x="120" y="870" width="30" height="30" fill="rgb(69,69,69)"/><rect x="150" y="870" width="30" height="30" fill="rgb(79,79,79)"/><rect x="180" y="870" width="30" height="30" fill="rgb(83,83,83)"/><rect x="210" y="870" width="30" height="30" fill="rgb(82,82,82)"/><rect x="240" y="870" width="30" height="30" fill="rgb(77,77,77)"/><rect x="270" y="870" width="30" height="30" fill="rgb(69,69,69)"/><rect x="300" y="870" width="30" height="30" fill="rgb(60,60,60)"/><rect x="330" y="870" width="30" height="30" fill="rgb(52,52,52)"/><rect x="360" y="870" width="30" height="30" fill="rgb(47,47,47)"/><rect x="390" y="870" width="30" height="30" fill="rgb(43,43,43)"/><rect x="420" y="870" width="30" height="30" fill="rgb(42,42,42)"/><rect x="450" y="870" width="30" height="30" fill="rgb(42,42,42)"/><rect x="480" y="870" width="30" height="30" fill="rgb(44,44,44)"/><rect x="510" y="870" width="30" height="30" fill="rgb(47,47,47)"/><rect x="540" y="870" width="30" height="30" fill="rgb(50,50,50)"/><rect x="570" y="870" width="30" height="30" fill="rgb(53,53,53)"/><rect x="600" y="870" width="30" height="30" fill="rgb(57,57,57)"/><rect x="630" y="870" width="30" height="30" fill="rgb(61,61,61)"/><rect x="660" y="870" width="30" height="30" fill="rgb(64,64,64)"/><rect x="690" y="870" width="30" height="30" fill="rgb(66,66,66)"/><rect x="720" y="870" width="30" height="30" fill="rgb(65,65,65)"/><rect x="750" y="870" width="30" height="30" fill="rgb(63,63,63)"/><rect x="780" y="870" width="30" height="30" fill="rgb(61,61,61)"/><rect x="810" y="870" width="30" height="30" fill="rgb(59,59,59)"/><rect x="840" y="870" width="30" height="30" fill="rgb(56,56,56)"/><rect x="870" y="870" width="30" height="30" fill="rgb(52,52,52)"/><rect x="900" y="870" width="30" height="30" fill="rgb(47,47,47)"/><rect x="930" y="870" width="30" height="30" fill="rgb(41,41,41)"/><rect x="960" y="870" width="30" height="30" fill="rgb(37,37,37)"/><rect x="990" y="870" width="30" height="30" fill="rgb(35,35,35)"/><rect x="1020" y="870" width="30" height="30" fill="rgb(33,33,33)"/><rect x="1050" y="870" width="30" height="30" fill="rgb(32,32,32)"/><rect x="1080" y="870" width="30" height="30" fill="rgb(31,31,31)"/><rect x="1110" y="870" width="30" height="30" fill="rgb(31,31,31)"/><rect x="1140" y="870" width="30" height="30" fill="rgb(30,30,30)"/><rect x="1170" y="870" width="30" height="30" fill="rgb(29,29,29)"/><rect x="1200" y="870" width="30" height="30" fill="rgb(28,28,28)"/><rect x="1230" y="870" width="30" height="30" fill="rgb(28,28,28)"/><rect x="1260" y="870" width="30" height="30" fill="rgb(27,27,27)"/><rect x="1290" y="870" width="30" height="30" fill="rgb(25,25,25)"/><rect x="1320" y="870" width="30" height="30" fill="rgb(24,24,24)"/><rect x="1350" y="870" width="30" height="30" fill="rgb(23,23,23)"/><rect x="1380" y="870" width="30" height="30" fill="rgb(23,23,23)"/><rect x="-60" y="900" width="30" height="30" fill="rgb(32,32,32)"/><rect x="-30" y="900" width="30" height="30" fill="rgb(32,32,32)"/><rect x="0" y="900" width="30" height="30" fill="rgb(33,33,33)"/><rect x="30" y="900" width="30" height="30" fill="rgb(37,37,37)"/><rect x="60" y="900" width="30" height="30" fill="rgb(45,45,45)"/><rect x="90" y="900" width="30" height="30" fill="rgb(56,56,56)"/><rect x="120" y="900" width="30" height="30" fill="rgb(69,69,69)"/><rect x="150" y="900" width="30" height="30" fill="rgb(79,79,79)"/><rect x="180" y="900" width="30" height="30" fill="rgb(83,83,83)"/><rect x="210" y="900" width="30" height="30" fill="rgb(81,81,81)"/><rect x="240" y="900" width="30" height="30" fill="rgb(76,76,76)"/><rect x="270" y="900" width="30" height="30" fill="rgb(67,67,67)"/><rect x="300" y="900" width="30" height="30" fill="rgb(58,58,58)"/><rect x="330" y="900" width="30" height="30" fill="rgb(49,49,49)"/><rect x="360" y="900" width="30" height="30" fill="rgb(43,43,43)"/><rect x="390" y="900" width="30" height="30" fill="rgb(40,40,40)"/><rect x="420" y="900" width="30" height="30" fill="rgb(39,39,39)"/><rect x="450" y="900" width="30" height="30" fill="rgb(40,40,40)"/><rect x="480" y="900" width="30" height="30" fill="rgb(42,42,42)"/><rect x="510" y="900" width="30" height="30" fill="rgb(45,45,45)"/><rect x="540" y="900" width="30" height="30" fill="rgb(48,48,48)"/><rect x="570" y="900" width="30" height="30" fill="rgb(51,51,51)"/><rect x="600" y="900" width="30" height="30" fill="rgb(54,54,54)"/><rect x="630" y="900" width="30" height="30" fill="rgb(58,58,58)"/><rect x="660" y="900" width="30" height="30" fill="rgb(62,62,62)"/><rect x="690" y="900" width="30" height="30" fill="rgb(64,64,64)"/><rect x="720" y="900" width="30" height="30" fill="rgb(64,64,64)"/><rect x="750" y="900" width="30" height="30" fill="rgb(63,63,63)"/><rect x="780" y="900" width="30" height="30" fill="rgb(61,61,61)"/><rect x="810" y="900" width="30" height="30" fill="rgb(59,59,59)"/><rect x="840" y="900" width="30" height="30" fill="rgb(56,56,56)"/><rect x="870" y="900" width="30" height="30" fill="rgb(52,52,52)"/><rect x="900" y="900" width="30" height="30" fill="rgb(46,46,46)"/><rect x="930" y="900" width="30" height="30" fill="rgb(41,41,41)"/><rect x="960" y="900" width="30" height="30" fill="rgb(37,37,37)"/><rect x="990" y="900" width="30" height="30" fill="rgb(34,34,34)"/><rect x="1020" y="900" width="30" height="30" fill="rgb(33,33,33)"/><rect x="1050" y="900" width="30" height="30" fill="rgb(32,32,32)"/><rect x="1080" y="900" width="30" height="30" fill="rgb(31,31,31)"/><rect x="1110" y="900" width="30" height="30" fill="rgb(31,31,31)"/><rect x="1140" y="900" width="30" height="30" fill="rgb(30,30,30)"/><rect x="1170" y="900" width="30" height="30" fill="rgb(29,29,29)"/><rect x="1200" y="900" width="30" height="30" fill="rgb(29,29,29)"/><rect x="1230" y="900" width="30" height="30" fill="rgb(28,28,28)"/><rect x="1260" y="900" width="30" height="30" fill="rgb(28,28,28)"/><rect x="1290" y="900" width="30" height="30" fill="rgb(27,27,27)"/><rect x="1320" y="900" width="30" height="30" fill="rgb(26,26,26)"/><rect x="1350" y="900" width="30" height="30" fill="rgb(25,25,25)"/><rect x="1380" y="900" width="30" height="30" fill="rgb(25,25,25)"/><rect x="-60" y="930" width="30" height="30" fill="rgb(32,32,32)"/><rect x="-30" y="930" width="30" height="30" fill="rgb(32,32,32)"/><rect x="0" y="930" width="30" height="30" fill="rgb(33,33,33)"/><rect x="30" y="930" width="30" height="30" fill="rgb(37,37,37)"/><rect x="60" y="930" width="30" height="30" fill="rgb(45,45,45)"/><rect x="90" y="930" width="30" height="30" fill="rgb(56,56,56)"/><rect x="120" y="930" width="30" height="30" fill="rgb(69,69,69)"/><rect x="150" y="930" width="30" height="30" fill="rgb(79,79,79)"/><rect x="180" y="930" width="30" height="30" fill="rgb(83,83,83)"/><rect x="210" y="930" width="30" height="30" fill="rgb(81,81,81)"/><rect x="240" y="930" width="30" height="30" fill="rgb(76,76,76)"/><rect x="270" y="930" width="30" height="30" fill="rgb(67,67,67)"/><rect x="300" y="930" width="30" height="30" fill="rgb(58,58,58)"/><rect x="330" y="930" width="30" height="30" fill="rgb(49,49,49)"/><rect x="360" y="930" width="30" height="30" fill="rgb(43,43,43)"/><rect x="390" y="930" width="30" height="30" fill="rgb(40,40,40)"/><rect x="420" y="930" width="30" height="30" fill="rgb(39,39,39)"/><rect x="450" y="930" width="30" height="30" fill="rgb(40,40,40)"/><rect x="480" y="930" width="30" height="30" fill="rgb(42,42,42)"/><rect x="510" y="930" width="30" height="30" fill="rgb(45,45,45)"/><rect x="540" y="930" width="30" height="30" fill="rgb(48,48,48)"/><rect x="570" y="930" width="30" height="30" fill="rgb(51,51,51)"/><rect x="600" y="930" width="30" height="30" fill="rgb(54,54,54)"/><rect x="630" y="930" width="30" height="30" fill="rgb(58,58,58)"/><rect x="660" y="930" width="30" height="30" fill="rgb(62,62,62)"/><rect x="690" y="930" width="30" height="30" fill="rgb(64,64,64)"/><rect x="720" y="930" width="30" height="30" fill="rgb(64,64,64)"/><rect x="750" y="930" width="30" height="30" fill="rgb(63,63,63)"/><rect x="780" y="930" width="30" height="30" fill="rgb(61,61,61)"/><rect x="810" y="930" width="30" height="30" fill="rgb(59,59,59)"/><rect x="840" y="930" width="30" height="30" fill="rgb(56,56,56)"/><rect x="870" y="930" width="30" height="30" fill="rgb(52,52,52)"/><rect x="900" y="930" width="30" height="30" fill="rgb(46,46,46)"/><rect x="930" y="930" width="30" height="30" fill="rgb(41,41,41)"/><rect x="960" y="930" width="30" height="30" fill="rgb(37,37,37)"/><rect x="990" y="930" width="30" height="30" fill="rgb(34,34,34)"/><rect x="1020" y="930" width="30" height="30" fill="rgb(33,33,33)"/><rect x="1050" y="930" width="30" height="30" fill="rgb(32,32,32)"/><rect x="1080" y="930" width="30" height="30" fill="rgb(31,31,31)"/><rect x="1110" y="930" width="30" height="30" fill="rgb(31,31,31)"/><rect x="1140" y="930" width="30" height="30" fill="rgb(30,30,30)"/><rect x="1170" y="930" width="30" height="30" fill="rgb(29,29,29)"/><rect x="1200" y="930" width="30" height="30" fill="rgb(29,29,29)"/><rect x="1230" y="930" width="30" height="30" fill="rgb(28,28,28)"/><rect x="1260" y="930" width="30" height="30" fill="rgb(28,28,28)"/><rect x="1290" y="930" width="30" height="30" fill="rgb(27,27,27)"/><rect x="1320" y="930" width="30" height="30" fill="rgb(26,26,26)"/><rect x="1350" y="930" width="30" height="30" fill="rgb(25,25,25)"/><rect x="1380" y="930" width="30" height="30" fill="rgb(25,25,25)"/></g></svg>
<div id="frame"></div>
<div id="title"><span>MONITOR &amp; REBALANCE</span></div>
<svg id="pie" width="1350" height="900">
<circle cx="674" cy="428.5" r="263.5" fill="#fdfdfd"/>
<path fill="#929873" d="M674 428.5L674.00 166.50A262 262 0 0 1 885.96 582.50Z"/>
<path fill="#2f3e78" d="M674 428.5L885.96 582.50A262 262 0 0 1 520.00 640.46Z"/>
<path fill="#efcd55" d="M674 428.5L520.00 640.46A262 262 0 0 1 424.82 347.54Z"/>
<path fill="#6e9bb0" d="M674 428.5L424.82 347.54A262 262 0 0 1 593.04 179.32Z"/>
<path fill="#cdaca6" d="M674 428.5L593.04 179.32A262 262 0 0 1 674.00 166.50Z"/>
</svg>
<div class="lg" style="left:81px;background:#929873"></div><div class="lt" style="left:108px;letter-spacing:-0.11px">Canadian Stocks</div>
<div class="lg" style="left:339px;background:#2f3e78"></div><div class="lt" style="left:367px;letter-spacing:-0.43px">US Stocks</div>
<div class="lg" style="left:505px;background:#efcd55"></div><div class="lt" style="left:533px">International Stocks</div>
<div class="lg" style="left:796px;background:#6e9bb0"></div><div class="lt" style="left:823.8px;letter-spacing:-0.09px">Fixed Income</div>
<div class="lg" style="left:1010px;background:#cdaca6"></div><div class="lt" style="left:1038.8px;letter-spacing:-0.28px">Emerging Markets</div>
</body></html>
